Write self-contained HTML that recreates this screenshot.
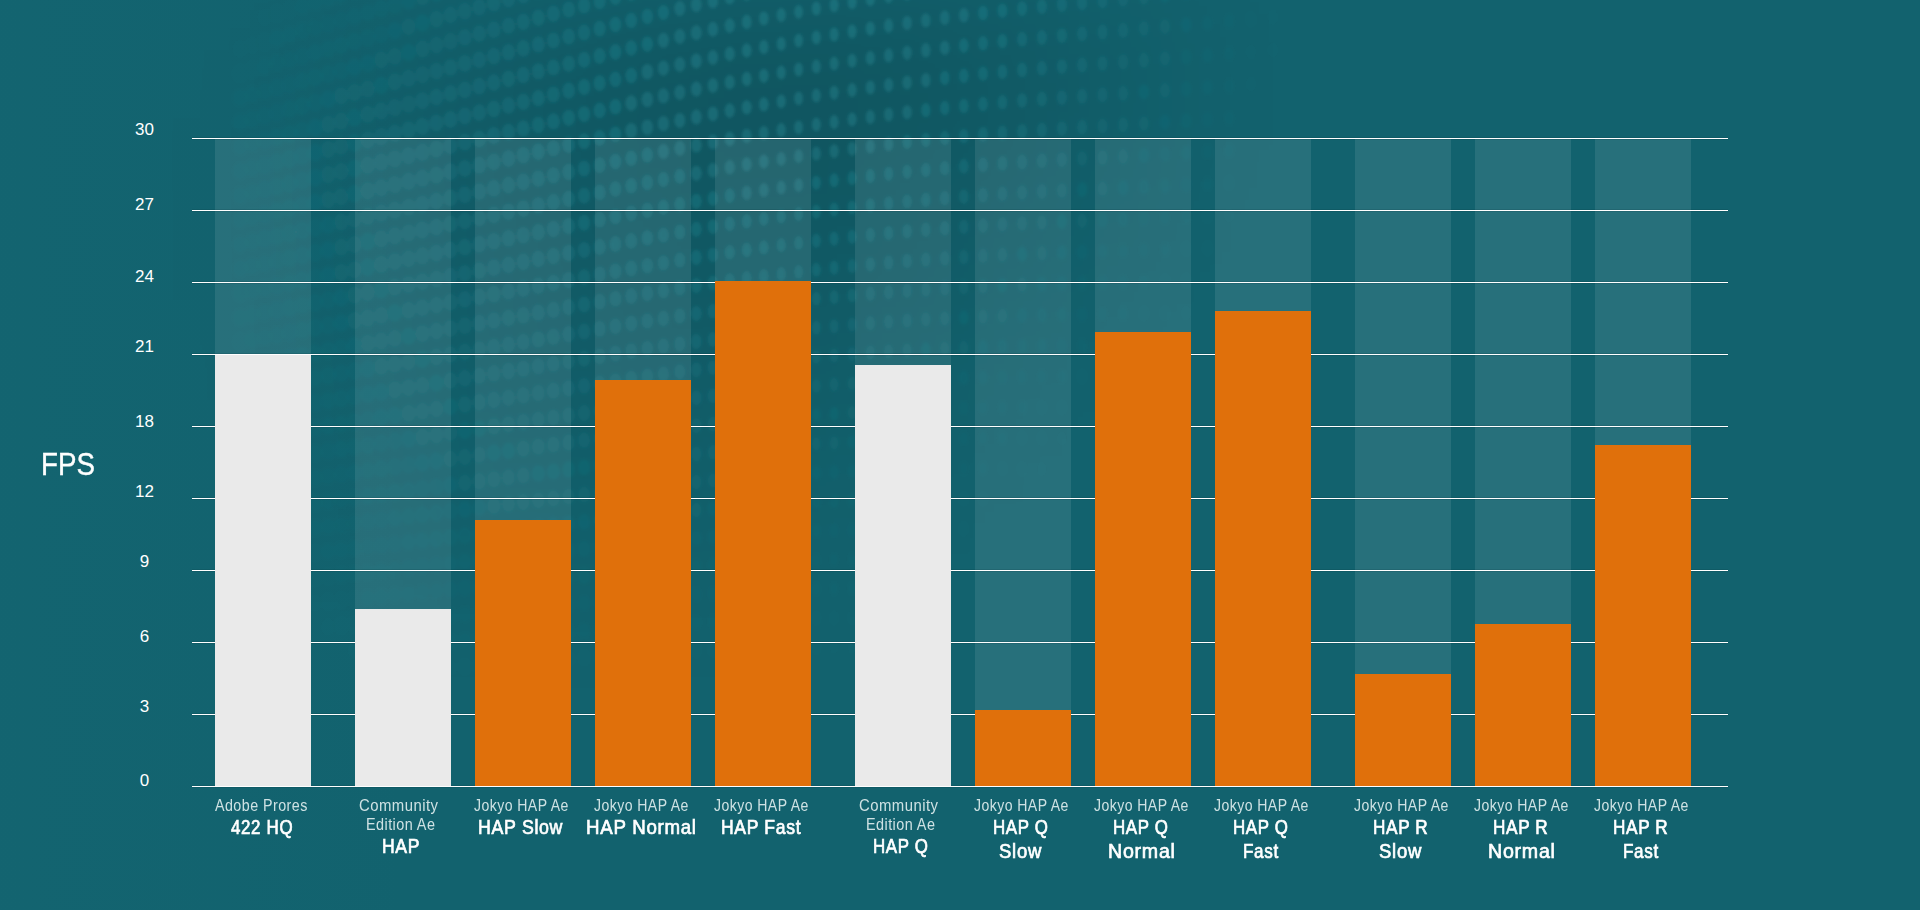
<!DOCTYPE html>
<html><head><meta charset="utf-8"><style>
html,body{margin:0;padding:0;}
body{width:1920px;height:910px;overflow:hidden;position:relative;background:#12626e;font-family:"Liberation Sans",sans-serif;}
.a{position:absolute;}
.col{position:absolute;top:139px;width:96px;height:647px;background:rgba(255,255,255,0.09);}
.grid{position:absolute;left:192px;width:1536px;height:1px;background:#fff;box-shadow:0 -1px 0 rgba(0,35,45,0.12),0 1px 0 rgba(0,35,45,0.12);}
.bar{position:absolute;width:96px;}
.w{background:#eaeaea;}
.o{background:#e0700b;}
.yl{position:absolute;width:40px;left:124.4px;text-align:center;font-size:17px;line-height:18px;color:#fff;white-space:nowrap;}
.lt{position:absolute;transform-origin:0 0;font-size:16px;line-height:18px;color:rgba(240,248,248,0.85);letter-spacing:0.5px;white-space:nowrap;}
.bd{position:absolute;transform-origin:0 0;font-size:20.5px;line-height:24px;font-weight:normal;letter-spacing:0.8px;-webkit-text-stroke:0.7px #fff;color:#fff;white-space:nowrap;}
</style></head><body>
<div class="a" style="left:0;top:0;width:1920px;height:910px;background:linear-gradient(90deg, rgba(40,140,150,0.05) 0px, rgba(40,140,150,0) 420px)"></div>
<svg class="a" style="left:0;top:0" width="1920" height="910">
<defs><filter id="bl" x="-5%" y="-5%" width="110%" height="110%"><feGaussianBlur stdDeviation="1.6"/></filter>
<filter id="bl2" x="-20%" y="-20%" width="140%" height="140%"><feGaussianBlur stdDeviation="60"/></filter></defs>
<g filter="url(#bl2)" fill="#000">
<rect x="250" y="0" width="50" height="50" fill-opacity="0.007"/>
<rect x="300" y="0" width="50" height="50" fill-opacity="0.017"/>
<rect x="350" y="0" width="50" height="50" fill-opacity="0.026"/>
<rect x="400" y="0" width="50" height="50" fill-opacity="0.043"/>
<rect x="450" y="0" width="50" height="50" fill-opacity="0.060"/>
<rect x="500" y="0" width="50" height="50" fill-opacity="0.076"/>
<rect x="550" y="0" width="50" height="50" fill-opacity="0.092"/>
<rect x="600" y="0" width="50" height="50" fill-opacity="0.107"/>
<rect x="650" y="0" width="50" height="50" fill-opacity="0.116"/>
<rect x="700" y="0" width="50" height="50" fill-opacity="0.125"/>
<rect x="750" y="0" width="50" height="50" fill-opacity="0.130"/>
<rect x="800" y="0" width="50" height="50" fill-opacity="0.129"/>
<rect x="850" y="0" width="50" height="50" fill-opacity="0.129"/>
<rect x="900" y="0" width="50" height="50" fill-opacity="0.120"/>
<rect x="950" y="0" width="50" height="50" fill-opacity="0.111"/>
<rect x="1000" y="0" width="50" height="50" fill-opacity="0.096"/>
<rect x="1050" y="0" width="50" height="50" fill-opacity="0.076"/>
<rect x="1100" y="0" width="50" height="50" fill-opacity="0.056"/>
<rect x="1150" y="0" width="50" height="50" fill-opacity="0.036"/>
<rect x="1200" y="0" width="50" height="50" fill-opacity="0.016"/>
<rect x="1250" y="0" width="50" height="50" fill-opacity="0.005"/>
<rect x="200" y="50" width="50" height="50" fill-opacity="0.006"/>
<rect x="250" y="50" width="50" height="50" fill-opacity="0.014"/>
<rect x="300" y="50" width="50" height="50" fill-opacity="0.027"/>
<rect x="350" y="50" width="50" height="50" fill-opacity="0.039"/>
<rect x="400" y="50" width="50" height="50" fill-opacity="0.054"/>
<rect x="450" y="50" width="50" height="50" fill-opacity="0.069"/>
<rect x="500" y="50" width="50" height="50" fill-opacity="0.084"/>
<rect x="550" y="50" width="50" height="50" fill-opacity="0.098"/>
<rect x="600" y="50" width="50" height="50" fill-opacity="0.112"/>
<rect x="650" y="50" width="50" height="50" fill-opacity="0.119"/>
<rect x="700" y="50" width="50" height="50" fill-opacity="0.126"/>
<rect x="750" y="50" width="50" height="50" fill-opacity="0.129"/>
<rect x="800" y="50" width="50" height="50" fill-opacity="0.128"/>
<rect x="850" y="50" width="50" height="50" fill-opacity="0.126"/>
<rect x="900" y="50" width="50" height="50" fill-opacity="0.115"/>
<rect x="950" y="50" width="50" height="50" fill-opacity="0.104"/>
<rect x="1000" y="50" width="50" height="50" fill-opacity="0.089"/>
<rect x="1050" y="50" width="50" height="50" fill-opacity="0.070"/>
<rect x="1100" y="50" width="50" height="50" fill-opacity="0.051"/>
<rect x="1150" y="50" width="50" height="50" fill-opacity="0.032"/>
<rect x="1200" y="50" width="50" height="50" fill-opacity="0.014"/>
<rect x="150" y="100" width="50" height="50" fill-opacity="0.005"/>
<rect x="200" y="100" width="50" height="50" fill-opacity="0.010"/>
<rect x="250" y="100" width="50" height="50" fill-opacity="0.021"/>
<rect x="300" y="100" width="50" height="50" fill-opacity="0.036"/>
<rect x="350" y="100" width="50" height="50" fill-opacity="0.052"/>
<rect x="400" y="100" width="50" height="50" fill-opacity="0.065"/>
<rect x="450" y="100" width="50" height="50" fill-opacity="0.078"/>
<rect x="500" y="100" width="50" height="50" fill-opacity="0.091"/>
<rect x="550" y="100" width="50" height="50" fill-opacity="0.104"/>
<rect x="600" y="100" width="50" height="50" fill-opacity="0.117"/>
<rect x="650" y="100" width="50" height="50" fill-opacity="0.122"/>
<rect x="700" y="100" width="50" height="50" fill-opacity="0.127"/>
<rect x="750" y="100" width="50" height="50" fill-opacity="0.129"/>
<rect x="800" y="100" width="50" height="50" fill-opacity="0.126"/>
<rect x="850" y="100" width="50" height="50" fill-opacity="0.123"/>
<rect x="900" y="100" width="50" height="50" fill-opacity="0.110"/>
<rect x="950" y="100" width="50" height="50" fill-opacity="0.097"/>
<rect x="1000" y="100" width="50" height="50" fill-opacity="0.082"/>
<rect x="1050" y="100" width="50" height="50" fill-opacity="0.064"/>
<rect x="1100" y="100" width="50" height="50" fill-opacity="0.045"/>
<rect x="1150" y="100" width="50" height="50" fill-opacity="0.029"/>
<rect x="1200" y="100" width="50" height="50" fill-opacity="0.012"/>
<rect x="150" y="150" width="50" height="50" fill-opacity="0.005"/>
<rect x="200" y="150" width="50" height="50" fill-opacity="0.010"/>
<rect x="250" y="150" width="50" height="50" fill-opacity="0.020"/>
<rect x="300" y="150" width="50" height="50" fill-opacity="0.035"/>
<rect x="350" y="150" width="50" height="50" fill-opacity="0.049"/>
<rect x="400" y="150" width="50" height="50" fill-opacity="0.061"/>
<rect x="450" y="150" width="50" height="50" fill-opacity="0.073"/>
<rect x="500" y="150" width="50" height="50" fill-opacity="0.085"/>
<rect x="550" y="150" width="50" height="50" fill-opacity="0.096"/>
<rect x="600" y="150" width="50" height="50" fill-opacity="0.107"/>
<rect x="650" y="150" width="50" height="50" fill-opacity="0.112"/>
<rect x="700" y="150" width="50" height="50" fill-opacity="0.117"/>
<rect x="750" y="150" width="50" height="50" fill-opacity="0.118"/>
<rect x="800" y="150" width="50" height="50" fill-opacity="0.114"/>
<rect x="850" y="150" width="50" height="50" fill-opacity="0.110"/>
<rect x="900" y="150" width="50" height="50" fill-opacity="0.096"/>
<rect x="950" y="150" width="50" height="50" fill-opacity="0.082"/>
<rect x="1000" y="150" width="50" height="50" fill-opacity="0.067"/>
<rect x="1050" y="150" width="50" height="50" fill-opacity="0.050"/>
<rect x="1100" y="150" width="50" height="50" fill-opacity="0.034"/>
<rect x="1150" y="150" width="50" height="50" fill-opacity="0.021"/>
<rect x="1200" y="150" width="50" height="50" fill-opacity="0.009"/>
<rect x="150" y="200" width="50" height="50" fill-opacity="0.005"/>
<rect x="200" y="200" width="50" height="50" fill-opacity="0.010"/>
<rect x="250" y="200" width="50" height="50" fill-opacity="0.020"/>
<rect x="300" y="200" width="50" height="50" fill-opacity="0.033"/>
<rect x="350" y="200" width="50" height="50" fill-opacity="0.047"/>
<rect x="400" y="200" width="50" height="50" fill-opacity="0.058"/>
<rect x="450" y="200" width="50" height="50" fill-opacity="0.069"/>
<rect x="500" y="200" width="50" height="50" fill-opacity="0.079"/>
<rect x="550" y="200" width="50" height="50" fill-opacity="0.087"/>
<rect x="600" y="200" width="50" height="50" fill-opacity="0.096"/>
<rect x="650" y="200" width="50" height="50" fill-opacity="0.101"/>
<rect x="700" y="200" width="50" height="50" fill-opacity="0.107"/>
<rect x="750" y="200" width="50" height="50" fill-opacity="0.107"/>
<rect x="800" y="200" width="50" height="50" fill-opacity="0.102"/>
<rect x="850" y="200" width="50" height="50" fill-opacity="0.097"/>
<rect x="900" y="200" width="50" height="50" fill-opacity="0.082"/>
<rect x="950" y="200" width="50" height="50" fill-opacity="0.067"/>
<rect x="1000" y="200" width="50" height="50" fill-opacity="0.052"/>
<rect x="1050" y="200" width="50" height="50" fill-opacity="0.037"/>
<rect x="1100" y="200" width="50" height="50" fill-opacity="0.022"/>
<rect x="1150" y="200" width="50" height="50" fill-opacity="0.013"/>
<rect x="1200" y="200" width="50" height="50" fill-opacity="0.005"/>
<rect x="150" y="250" width="50" height="50" fill-opacity="0.005"/>
<rect x="200" y="250" width="50" height="50" fill-opacity="0.010"/>
<rect x="250" y="250" width="50" height="50" fill-opacity="0.018"/>
<rect x="300" y="250" width="50" height="50" fill-opacity="0.031"/>
<rect x="350" y="250" width="50" height="50" fill-opacity="0.043"/>
<rect x="400" y="250" width="50" height="50" fill-opacity="0.053"/>
<rect x="450" y="250" width="50" height="50" fill-opacity="0.063"/>
<rect x="500" y="250" width="50" height="50" fill-opacity="0.072"/>
<rect x="550" y="250" width="50" height="50" fill-opacity="0.079"/>
<rect x="600" y="250" width="50" height="50" fill-opacity="0.086"/>
<rect x="650" y="250" width="50" height="50" fill-opacity="0.090"/>
<rect x="700" y="250" width="50" height="50" fill-opacity="0.094"/>
<rect x="750" y="250" width="50" height="50" fill-opacity="0.094"/>
<rect x="800" y="250" width="50" height="50" fill-opacity="0.088"/>
<rect x="850" y="250" width="50" height="50" fill-opacity="0.082"/>
<rect x="900" y="250" width="50" height="50" fill-opacity="0.068"/>
<rect x="950" y="250" width="50" height="50" fill-opacity="0.053"/>
<rect x="1000" y="250" width="50" height="50" fill-opacity="0.039"/>
<rect x="1050" y="250" width="50" height="50" fill-opacity="0.026"/>
<rect x="1100" y="250" width="50" height="50" fill-opacity="0.013"/>
<rect x="1150" y="250" width="50" height="50" fill-opacity="0.008"/>
<rect x="200" y="300" width="50" height="50" fill-opacity="0.008"/>
<rect x="250" y="300" width="50" height="50" fill-opacity="0.016"/>
<rect x="300" y="300" width="50" height="50" fill-opacity="0.027"/>
<rect x="350" y="300" width="50" height="50" fill-opacity="0.039"/>
<rect x="400" y="300" width="50" height="50" fill-opacity="0.048"/>
<rect x="450" y="300" width="50" height="50" fill-opacity="0.057"/>
<rect x="500" y="300" width="50" height="50" fill-opacity="0.064"/>
<rect x="550" y="300" width="50" height="50" fill-opacity="0.070"/>
<rect x="600" y="300" width="50" height="50" fill-opacity="0.075"/>
<rect x="650" y="300" width="50" height="50" fill-opacity="0.077"/>
<rect x="700" y="300" width="50" height="50" fill-opacity="0.080"/>
<rect x="750" y="300" width="50" height="50" fill-opacity="0.078"/>
<rect x="800" y="300" width="50" height="50" fill-opacity="0.072"/>
<rect x="850" y="300" width="50" height="50" fill-opacity="0.065"/>
<rect x="900" y="300" width="50" height="50" fill-opacity="0.052"/>
<rect x="950" y="300" width="50" height="50" fill-opacity="0.039"/>
<rect x="1000" y="300" width="50" height="50" fill-opacity="0.028"/>
<rect x="1050" y="300" width="50" height="50" fill-opacity="0.018"/>
<rect x="1100" y="300" width="50" height="50" fill-opacity="0.008"/>
<rect x="1150" y="300" width="50" height="50" fill-opacity="0.005"/>
<rect x="200" y="350" width="50" height="50" fill-opacity="0.006"/>
<rect x="250" y="350" width="50" height="50" fill-opacity="0.013"/>
<rect x="300" y="350" width="50" height="50" fill-opacity="0.024"/>
<rect x="350" y="350" width="50" height="50" fill-opacity="0.035"/>
<rect x="400" y="350" width="50" height="50" fill-opacity="0.043"/>
<rect x="450" y="350" width="50" height="50" fill-opacity="0.051"/>
<rect x="500" y="350" width="50" height="50" fill-opacity="0.057"/>
<rect x="550" y="350" width="50" height="50" fill-opacity="0.060"/>
<rect x="600" y="350" width="50" height="50" fill-opacity="0.064"/>
<rect x="650" y="350" width="50" height="50" fill-opacity="0.065"/>
<rect x="700" y="350" width="50" height="50" fill-opacity="0.066"/>
<rect x="750" y="350" width="50" height="50" fill-opacity="0.062"/>
<rect x="800" y="350" width="50" height="50" fill-opacity="0.055"/>
<rect x="850" y="350" width="50" height="50" fill-opacity="0.048"/>
<rect x="900" y="350" width="50" height="50" fill-opacity="0.036"/>
<rect x="950" y="350" width="50" height="50" fill-opacity="0.025"/>
<rect x="1000" y="350" width="50" height="50" fill-opacity="0.016"/>
<rect x="1050" y="350" width="50" height="50" fill-opacity="0.009"/>
<rect x="200" y="400" width="50" height="50" fill-opacity="0.004"/>
<rect x="250" y="400" width="50" height="50" fill-opacity="0.010"/>
<rect x="300" y="400" width="50" height="50" fill-opacity="0.020"/>
<rect x="350" y="400" width="50" height="50" fill-opacity="0.030"/>
<rect x="400" y="400" width="50" height="50" fill-opacity="0.037"/>
<rect x="450" y="400" width="50" height="50" fill-opacity="0.044"/>
<rect x="500" y="400" width="50" height="50" fill-opacity="0.049"/>
<rect x="550" y="400" width="50" height="50" fill-opacity="0.051"/>
<rect x="600" y="400" width="50" height="50" fill-opacity="0.054"/>
<rect x="650" y="400" width="50" height="50" fill-opacity="0.053"/>
<rect x="700" y="400" width="50" height="50" fill-opacity="0.053"/>
<rect x="750" y="400" width="50" height="50" fill-opacity="0.049"/>
<rect x="800" y="400" width="50" height="50" fill-opacity="0.042"/>
<rect x="850" y="400" width="50" height="50" fill-opacity="0.034"/>
<rect x="900" y="400" width="50" height="50" fill-opacity="0.025"/>
<rect x="950" y="400" width="50" height="50" fill-opacity="0.016"/>
<rect x="1000" y="400" width="50" height="50" fill-opacity="0.009"/>
<rect x="1050" y="400" width="50" height="50" fill-opacity="0.004"/>
<rect x="250" y="450" width="50" height="50" fill-opacity="0.007"/>
<rect x="300" y="450" width="50" height="50" fill-opacity="0.016"/>
<rect x="350" y="450" width="50" height="50" fill-opacity="0.024"/>
<rect x="400" y="450" width="50" height="50" fill-opacity="0.031"/>
<rect x="450" y="450" width="50" height="50" fill-opacity="0.037"/>
<rect x="500" y="450" width="50" height="50" fill-opacity="0.041"/>
<rect x="550" y="450" width="50" height="50" fill-opacity="0.042"/>
<rect x="600" y="450" width="50" height="50" fill-opacity="0.044"/>
<rect x="650" y="450" width="50" height="50" fill-opacity="0.043"/>
<rect x="700" y="450" width="50" height="50" fill-opacity="0.041"/>
<rect x="750" y="450" width="50" height="50" fill-opacity="0.038"/>
<rect x="800" y="450" width="50" height="50" fill-opacity="0.031"/>
<rect x="850" y="450" width="50" height="50" fill-opacity="0.025"/>
<rect x="900" y="450" width="50" height="50" fill-opacity="0.017"/>
<rect x="950" y="450" width="50" height="50" fill-opacity="0.010"/>
<rect x="1000" y="450" width="50" height="50" fill-opacity="0.005"/>
<rect x="250" y="500" width="50" height="50" fill-opacity="0.005"/>
<rect x="300" y="500" width="50" height="50" fill-opacity="0.011"/>
<rect x="350" y="500" width="50" height="50" fill-opacity="0.018"/>
<rect x="400" y="500" width="50" height="50" fill-opacity="0.024"/>
<rect x="450" y="500" width="50" height="50" fill-opacity="0.030"/>
<rect x="500" y="500" width="50" height="50" fill-opacity="0.033"/>
<rect x="550" y="500" width="50" height="50" fill-opacity="0.033"/>
<rect x="600" y="500" width="50" height="50" fill-opacity="0.034"/>
<rect x="650" y="500" width="50" height="50" fill-opacity="0.032"/>
<rect x="700" y="500" width="50" height="50" fill-opacity="0.030"/>
<rect x="750" y="500" width="50" height="50" fill-opacity="0.026"/>
<rect x="800" y="500" width="50" height="50" fill-opacity="0.021"/>
<rect x="850" y="500" width="50" height="50" fill-opacity="0.015"/>
<rect x="900" y="500" width="50" height="50" fill-opacity="0.010"/>
<rect x="950" y="500" width="50" height="50" fill-opacity="0.005"/>
<rect x="300" y="550" width="50" height="50" fill-opacity="0.008"/>
<rect x="350" y="550" width="50" height="50" fill-opacity="0.013"/>
<rect x="400" y="550" width="50" height="50" fill-opacity="0.017"/>
<rect x="450" y="550" width="50" height="50" fill-opacity="0.022"/>
<rect x="500" y="550" width="50" height="50" fill-opacity="0.024"/>
<rect x="550" y="550" width="50" height="50" fill-opacity="0.024"/>
<rect x="600" y="550" width="50" height="50" fill-opacity="0.024"/>
<rect x="650" y="550" width="50" height="50" fill-opacity="0.022"/>
<rect x="700" y="550" width="50" height="50" fill-opacity="0.020"/>
<rect x="750" y="550" width="50" height="50" fill-opacity="0.017"/>
<rect x="800" y="550" width="50" height="50" fill-opacity="0.013"/>
<rect x="850" y="550" width="50" height="50" fill-opacity="0.009"/>
<rect x="900" y="550" width="50" height="50" fill-opacity="0.005"/>
<rect x="300" y="600" width="50" height="50" fill-opacity="0.005"/>
<rect x="350" y="600" width="50" height="50" fill-opacity="0.008"/>
<rect x="400" y="600" width="50" height="50" fill-opacity="0.010"/>
<rect x="450" y="600" width="50" height="50" fill-opacity="0.013"/>
<rect x="500" y="600" width="50" height="50" fill-opacity="0.014"/>
<rect x="550" y="600" width="50" height="50" fill-opacity="0.014"/>
<rect x="600" y="600" width="50" height="50" fill-opacity="0.014"/>
<rect x="650" y="600" width="50" height="50" fill-opacity="0.013"/>
<rect x="700" y="600" width="50" height="50" fill-opacity="0.012"/>
<rect x="750" y="600" width="50" height="50" fill-opacity="0.010"/>
<rect x="800" y="600" width="50" height="50" fill-opacity="0.008"/>
<rect x="850" y="600" width="50" height="50" fill-opacity="0.005"/>
<rect x="450" y="650" width="50" height="50" fill-opacity="0.004"/>
<rect x="500" y="650" width="50" height="50" fill-opacity="0.005"/>
<rect x="550" y="650" width="50" height="50" fill-opacity="0.005"/>
<rect x="600" y="650" width="50" height="50" fill-opacity="0.005"/>
<rect x="650" y="650" width="50" height="50" fill-opacity="0.004"/>
<rect x="700" y="650" width="50" height="50" fill-opacity="0.004"/>
</g>
<g filter="url(#bl)" fill="#25909c">
<ellipse cx="240.0" cy="48.8" rx="7.9" ry="9.3" fill-opacity="0.01"/>
<ellipse cx="240.0" cy="73.3" rx="7.9" ry="9.3" fill-opacity="0.02"/>
<ellipse cx="240.0" cy="97.7" rx="7.9" ry="9.3" fill-opacity="0.03"/>
<ellipse cx="240.0" cy="122.1" rx="7.9" ry="9.3" fill-opacity="0.03"/>
<ellipse cx="240.0" cy="146.5" rx="7.9" ry="9.3" fill-opacity="0.03"/>
<ellipse cx="240.0" cy="170.9" rx="7.9" ry="9.3" fill-opacity="0.03"/>
<ellipse cx="240.0" cy="195.4" rx="7.9" ry="9.3" fill-opacity="0.03"/>
<ellipse cx="240.0" cy="219.8" rx="7.9" ry="9.3" fill-opacity="0.03"/>
<ellipse cx="240.0" cy="244.2" rx="7.9" ry="9.3" fill-opacity="0.03"/>
<ellipse cx="240.0" cy="268.6" rx="7.9" ry="9.3" fill-opacity="0.03"/>
<ellipse cx="240.0" cy="293.0" rx="7.9" ry="9.3" fill-opacity="0.03"/>
<ellipse cx="240.0" cy="317.5" rx="7.9" ry="9.3" fill-opacity="0.03"/>
<ellipse cx="240.0" cy="341.9" rx="7.9" ry="9.3" fill-opacity="0.02"/>
<ellipse cx="240.0" cy="366.3" rx="7.9" ry="9.3" fill-opacity="0.02"/>
<ellipse cx="240.0" cy="390.7" rx="7.9" ry="9.3" fill-opacity="0.02"/>
<ellipse cx="240.0" cy="415.1" rx="7.9" ry="9.3" fill-opacity="0.01"/>
<ellipse cx="240.0" cy="439.6" rx="7.9" ry="9.3" fill-opacity="0.01"/>
<ellipse cx="252.2" cy="45.4" rx="7.8" ry="9.2" fill-opacity="0.01"/>
<ellipse cx="252.2" cy="69.9" rx="7.8" ry="9.2" fill-opacity="0.02"/>
<ellipse cx="252.2" cy="94.4" rx="7.8" ry="9.2" fill-opacity="0.03"/>
<ellipse cx="252.2" cy="118.9" rx="7.8" ry="9.2" fill-opacity="0.04"/>
<ellipse cx="252.2" cy="143.4" rx="7.8" ry="9.2" fill-opacity="0.04"/>
<ellipse cx="252.2" cy="168.0" rx="7.8" ry="9.2" fill-opacity="0.04"/>
<ellipse cx="252.2" cy="192.5" rx="7.8" ry="9.2" fill-opacity="0.04"/>
<ellipse cx="252.2" cy="217.0" rx="7.8" ry="9.2" fill-opacity="0.04"/>
<ellipse cx="252.2" cy="241.5" rx="7.8" ry="9.2" fill-opacity="0.04"/>
<ellipse cx="252.2" cy="266.0" rx="7.8" ry="9.2" fill-opacity="0.04"/>
<ellipse cx="252.2" cy="290.5" rx="7.8" ry="9.2" fill-opacity="0.03"/>
<ellipse cx="252.2" cy="315.1" rx="7.8" ry="9.2" fill-opacity="0.03"/>
<ellipse cx="252.2" cy="339.6" rx="7.8" ry="9.2" fill-opacity="0.03"/>
<ellipse cx="252.2" cy="364.1" rx="7.8" ry="9.2" fill-opacity="0.02"/>
<ellipse cx="252.2" cy="388.6" rx="7.8" ry="9.2" fill-opacity="0.02"/>
<ellipse cx="252.2" cy="413.1" rx="7.8" ry="9.2" fill-opacity="0.02"/>
<ellipse cx="252.2" cy="437.7" rx="7.8" ry="9.2" fill-opacity="0.01"/>
<ellipse cx="264.6" cy="17.2" rx="7.8" ry="9.2" fill-opacity="0.01"/>
<ellipse cx="264.6" cy="41.9" rx="7.8" ry="9.2" fill-opacity="0.02"/>
<ellipse cx="264.6" cy="66.5" rx="7.8" ry="9.2" fill-opacity="0.03"/>
<ellipse cx="264.6" cy="91.1" rx="7.8" ry="9.2" fill-opacity="0.04"/>
<ellipse cx="264.6" cy="115.7" rx="7.8" ry="9.2" fill-opacity="0.05"/>
<ellipse cx="264.6" cy="140.3" rx="7.8" ry="9.2" fill-opacity="0.05"/>
<ellipse cx="264.6" cy="164.9" rx="7.8" ry="9.2" fill-opacity="0.05"/>
<ellipse cx="264.6" cy="189.6" rx="7.8" ry="9.2" fill-opacity="0.05"/>
<ellipse cx="264.6" cy="214.2" rx="7.8" ry="9.2" fill-opacity="0.05"/>
<ellipse cx="264.6" cy="238.8" rx="7.8" ry="9.2" fill-opacity="0.05"/>
<ellipse cx="264.6" cy="263.4" rx="7.8" ry="9.2" fill-opacity="0.04"/>
<ellipse cx="264.6" cy="288.0" rx="7.8" ry="9.2" fill-opacity="0.04"/>
<ellipse cx="264.6" cy="312.6" rx="7.8" ry="9.2" fill-opacity="0.04"/>
<ellipse cx="264.6" cy="337.3" rx="7.8" ry="9.2" fill-opacity="0.03"/>
<ellipse cx="264.6" cy="361.9" rx="7.8" ry="9.2" fill-opacity="0.03"/>
<ellipse cx="264.6" cy="386.5" rx="7.8" ry="9.2" fill-opacity="0.03"/>
<ellipse cx="264.6" cy="411.1" rx="7.8" ry="9.2" fill-opacity="0.02"/>
<ellipse cx="264.6" cy="435.7" rx="7.8" ry="9.2" fill-opacity="0.02"/>
<ellipse cx="264.6" cy="460.3" rx="7.8" ry="9.2" fill-opacity="0.02"/>
<ellipse cx="264.6" cy="485.0" rx="7.8" ry="9.2" fill-opacity="0.01"/>
<ellipse cx="277.0" cy="13.6" rx="7.8" ry="9.2" fill-opacity="0.02"/>
<ellipse cx="277.0" cy="38.3" rx="7.8" ry="9.2" fill-opacity="0.03"/>
<ellipse cx="277.0" cy="63.0" rx="7.8" ry="9.2" fill-opacity="0.04"/>
<ellipse cx="277.0" cy="87.8" rx="7.8" ry="9.2" fill-opacity="0.05"/>
<ellipse cx="277.0" cy="112.5" rx="7.8" ry="9.2" fill-opacity="0.05"/>
<ellipse cx="277.0" cy="137.2" rx="7.8" ry="9.2" fill-opacity="0.06"/>
<ellipse cx="277.0" cy="161.9" rx="7.8" ry="9.2" fill-opacity="0.06"/>
<ellipse cx="277.0" cy="186.6" rx="7.8" ry="9.2" fill-opacity="0.06"/>
<ellipse cx="277.0" cy="211.3" rx="7.8" ry="9.2" fill-opacity="0.06"/>
<ellipse cx="277.0" cy="236.1" rx="7.8" ry="9.2" fill-opacity="0.06"/>
<ellipse cx="277.0" cy="260.8" rx="7.8" ry="9.2" fill-opacity="0.05"/>
<ellipse cx="277.0" cy="285.5" rx="7.8" ry="9.2" fill-opacity="0.05"/>
<ellipse cx="277.0" cy="310.2" rx="7.8" ry="9.2" fill-opacity="0.05"/>
<ellipse cx="277.0" cy="334.9" rx="7.8" ry="9.2" fill-opacity="0.04"/>
<ellipse cx="277.0" cy="359.6" rx="7.8" ry="9.2" fill-opacity="0.04"/>
<ellipse cx="277.0" cy="384.3" rx="7.8" ry="9.2" fill-opacity="0.04"/>
<ellipse cx="277.0" cy="409.1" rx="7.8" ry="9.2" fill-opacity="0.03"/>
<ellipse cx="277.0" cy="433.8" rx="7.8" ry="9.2" fill-opacity="0.03"/>
<ellipse cx="277.0" cy="458.5" rx="7.8" ry="9.2" fill-opacity="0.02"/>
<ellipse cx="277.0" cy="483.2" rx="7.8" ry="9.2" fill-opacity="0.02"/>
<ellipse cx="277.0" cy="507.9" rx="7.8" ry="9.2" fill-opacity="0.02"/>
<ellipse cx="277.0" cy="532.6" rx="7.8" ry="9.2" fill-opacity="0.01"/>
<ellipse cx="289.6" cy="-14.9" rx="7.7" ry="9.1" fill-opacity="0.02"/>
<ellipse cx="289.6" cy="9.9" rx="7.7" ry="9.1" fill-opacity="0.02"/>
<ellipse cx="289.6" cy="34.7" rx="7.7" ry="9.1" fill-opacity="0.03"/>
<ellipse cx="289.6" cy="59.6" rx="7.7" ry="9.1" fill-opacity="0.04"/>
<ellipse cx="289.6" cy="84.4" rx="7.7" ry="9.1" fill-opacity="0.05"/>
<ellipse cx="289.6" cy="109.2" rx="7.7" ry="9.1" fill-opacity="0.06"/>
<ellipse cx="289.6" cy="134.0" rx="7.7" ry="9.1" fill-opacity="0.07"/>
<ellipse cx="289.6" cy="158.8" rx="7.7" ry="9.1" fill-opacity="0.07"/>
<ellipse cx="289.6" cy="183.6" rx="7.7" ry="9.1" fill-opacity="0.07"/>
<ellipse cx="289.6" cy="208.5" rx="7.7" ry="9.1" fill-opacity="0.07"/>
<ellipse cx="289.6" cy="233.3" rx="7.7" ry="9.1" fill-opacity="0.07"/>
<ellipse cx="289.6" cy="258.1" rx="7.7" ry="9.1" fill-opacity="0.06"/>
<ellipse cx="289.6" cy="282.9" rx="7.7" ry="9.1" fill-opacity="0.06"/>
<ellipse cx="289.6" cy="307.7" rx="7.7" ry="9.1" fill-opacity="0.06"/>
<ellipse cx="289.6" cy="332.5" rx="7.7" ry="9.1" fill-opacity="0.05"/>
<ellipse cx="289.6" cy="357.4" rx="7.7" ry="9.1" fill-opacity="0.05"/>
<ellipse cx="289.6" cy="382.2" rx="7.7" ry="9.1" fill-opacity="0.04"/>
<ellipse cx="289.6" cy="407.0" rx="7.7" ry="9.1" fill-opacity="0.04"/>
<ellipse cx="289.6" cy="431.8" rx="7.7" ry="9.1" fill-opacity="0.04"/>
<ellipse cx="289.6" cy="456.6" rx="7.7" ry="9.1" fill-opacity="0.03"/>
<ellipse cx="289.6" cy="481.5" rx="7.7" ry="9.1" fill-opacity="0.03"/>
<ellipse cx="289.6" cy="506.3" rx="7.7" ry="9.1" fill-opacity="0.02"/>
<ellipse cx="289.6" cy="531.1" rx="7.7" ry="9.1" fill-opacity="0.02"/>
<ellipse cx="289.6" cy="555.9" rx="7.7" ry="9.1" fill-opacity="0.01"/>
<ellipse cx="302.3" cy="-18.7" rx="7.7" ry="9.1" fill-opacity="0.02"/>
<ellipse cx="302.3" cy="6.2" rx="7.7" ry="9.1" fill-opacity="0.03"/>
<ellipse cx="302.3" cy="31.1" rx="7.7" ry="9.1" fill-opacity="0.04"/>
<ellipse cx="302.3" cy="56.1" rx="7.7" ry="9.1" fill-opacity="0.05"/>
<ellipse cx="302.3" cy="81.0" rx="7.7" ry="9.1" fill-opacity="0.06"/>
<ellipse cx="302.3" cy="105.9" rx="7.7" ry="9.1" fill-opacity="0.07"/>
<ellipse cx="302.3" cy="130.8" rx="7.7" ry="9.1" fill-opacity="0.08"/>
<ellipse cx="302.3" cy="155.7" rx="7.7" ry="9.1" fill-opacity="0.08"/>
<ellipse cx="302.3" cy="180.6" rx="7.7" ry="9.1" fill-opacity="0.08"/>
<ellipse cx="302.3" cy="205.6" rx="7.7" ry="9.1" fill-opacity="0.08"/>
<ellipse cx="302.3" cy="230.5" rx="7.7" ry="9.1" fill-opacity="0.07"/>
<ellipse cx="302.3" cy="255.4" rx="7.7" ry="9.1" fill-opacity="0.07"/>
<ellipse cx="302.3" cy="280.3" rx="7.7" ry="9.1" fill-opacity="0.07"/>
<ellipse cx="302.3" cy="305.2" rx="7.7" ry="9.1" fill-opacity="0.06"/>
<ellipse cx="302.3" cy="330.2" rx="7.7" ry="9.1" fill-opacity="0.06"/>
<ellipse cx="302.3" cy="355.1" rx="7.7" ry="9.1" fill-opacity="0.06"/>
<ellipse cx="302.3" cy="380.0" rx="7.7" ry="9.1" fill-opacity="0.05"/>
<ellipse cx="302.3" cy="404.9" rx="7.7" ry="9.1" fill-opacity="0.05"/>
<ellipse cx="302.3" cy="429.8" rx="7.7" ry="9.1" fill-opacity="0.04"/>
<ellipse cx="302.3" cy="454.8" rx="7.7" ry="9.1" fill-opacity="0.04"/>
<ellipse cx="302.3" cy="479.7" rx="7.7" ry="9.1" fill-opacity="0.03"/>
<ellipse cx="302.3" cy="504.6" rx="7.7" ry="9.1" fill-opacity="0.03"/>
<ellipse cx="302.3" cy="529.5" rx="7.7" ry="9.1" fill-opacity="0.02"/>
<ellipse cx="302.3" cy="554.4" rx="7.7" ry="9.1" fill-opacity="0.02"/>
<ellipse cx="302.3" cy="579.3" rx="7.7" ry="9.1" fill-opacity="0.01"/>
<ellipse cx="315.2" cy="-22.6" rx="7.6" ry="9.0" fill-opacity="0.03"/>
<ellipse cx="315.2" cy="2.5" rx="7.6" ry="9.0" fill-opacity="0.03"/>
<ellipse cx="315.2" cy="27.5" rx="7.6" ry="9.0" fill-opacity="0.04"/>
<ellipse cx="315.2" cy="52.5" rx="7.6" ry="9.0" fill-opacity="0.06"/>
<ellipse cx="315.2" cy="77.5" rx="7.6" ry="9.0" fill-opacity="0.07"/>
<ellipse cx="315.2" cy="102.6" rx="7.6" ry="9.0" fill-opacity="0.08"/>
<ellipse cx="315.2" cy="127.6" rx="7.6" ry="9.0" fill-opacity="0.09"/>
<ellipse cx="315.2" cy="152.6" rx="7.6" ry="9.0" fill-opacity="0.09"/>
<ellipse cx="315.2" cy="177.6" rx="7.6" ry="9.0" fill-opacity="0.09"/>
<ellipse cx="315.2" cy="202.6" rx="7.6" ry="9.0" fill-opacity="0.09"/>
<ellipse cx="315.2" cy="227.7" rx="7.6" ry="9.0" fill-opacity="0.08"/>
<ellipse cx="315.2" cy="252.7" rx="7.6" ry="9.0" fill-opacity="0.08"/>
<ellipse cx="315.2" cy="277.7" rx="7.6" ry="9.0" fill-opacity="0.08"/>
<ellipse cx="315.2" cy="302.7" rx="7.6" ry="9.0" fill-opacity="0.07"/>
<ellipse cx="315.2" cy="327.7" rx="7.6" ry="9.0" fill-opacity="0.07"/>
<ellipse cx="315.2" cy="352.8" rx="7.6" ry="9.0" fill-opacity="0.06"/>
<ellipse cx="315.2" cy="377.8" rx="7.6" ry="9.0" fill-opacity="0.06"/>
<ellipse cx="315.2" cy="402.8" rx="7.6" ry="9.0" fill-opacity="0.05"/>
<ellipse cx="315.2" cy="427.8" rx="7.6" ry="9.0" fill-opacity="0.05"/>
<ellipse cx="315.2" cy="452.9" rx="7.6" ry="9.0" fill-opacity="0.04"/>
<ellipse cx="315.2" cy="477.9" rx="7.6" ry="9.0" fill-opacity="0.04"/>
<ellipse cx="315.2" cy="502.9" rx="7.6" ry="9.0" fill-opacity="0.03"/>
<ellipse cx="315.2" cy="527.9" rx="7.6" ry="9.0" fill-opacity="0.03"/>
<ellipse cx="315.2" cy="552.9" rx="7.6" ry="9.0" fill-opacity="0.02"/>
<ellipse cx="315.2" cy="578.0" rx="7.6" ry="9.0" fill-opacity="0.02"/>
<ellipse cx="315.2" cy="603.0" rx="7.6" ry="9.0" fill-opacity="0.01"/>
<ellipse cx="328.1" cy="-1.3" rx="7.6" ry="9.0" fill-opacity="0.03"/>
<ellipse cx="328.1" cy="23.8" rx="7.6" ry="9.0" fill-opacity="0.05"/>
<ellipse cx="328.1" cy="48.9" rx="7.6" ry="9.0" fill-opacity="0.06"/>
<ellipse cx="328.1" cy="74.1" rx="7.6" ry="9.0" fill-opacity="0.08"/>
<ellipse cx="328.1" cy="99.2" rx="7.6" ry="9.0" fill-opacity="0.09"/>
<ellipse cx="328.1" cy="124.3" rx="7.6" ry="9.0" fill-opacity="0.10"/>
<ellipse cx="328.1" cy="149.4" rx="7.6" ry="9.0" fill-opacity="0.10"/>
<ellipse cx="328.1" cy="174.6" rx="7.6" ry="9.0" fill-opacity="0.10"/>
<ellipse cx="328.1" cy="199.7" rx="7.6" ry="9.0" fill-opacity="0.10"/>
<ellipse cx="328.1" cy="224.8" rx="7.6" ry="9.0" fill-opacity="0.09"/>
<ellipse cx="328.1" cy="249.9" rx="7.6" ry="9.0" fill-opacity="0.09"/>
<ellipse cx="328.1" cy="275.1" rx="7.6" ry="9.0" fill-opacity="0.09"/>
<ellipse cx="328.1" cy="300.2" rx="7.6" ry="9.0" fill-opacity="0.08"/>
<ellipse cx="328.1" cy="325.3" rx="7.6" ry="9.0" fill-opacity="0.08"/>
<ellipse cx="328.1" cy="350.4" rx="7.6" ry="9.0" fill-opacity="0.07"/>
<ellipse cx="328.1" cy="375.6" rx="7.6" ry="9.0" fill-opacity="0.07"/>
<ellipse cx="328.1" cy="400.7" rx="7.6" ry="9.0" fill-opacity="0.06"/>
<ellipse cx="328.1" cy="425.8" rx="7.6" ry="9.0" fill-opacity="0.06"/>
<ellipse cx="328.1" cy="450.9" rx="7.6" ry="9.0" fill-opacity="0.05"/>
<ellipse cx="328.1" cy="476.1" rx="7.6" ry="9.0" fill-opacity="0.04"/>
<ellipse cx="328.1" cy="501.2" rx="7.6" ry="9.0" fill-opacity="0.04"/>
<ellipse cx="328.1" cy="526.3" rx="7.6" ry="9.0" fill-opacity="0.03"/>
<ellipse cx="328.1" cy="551.4" rx="7.6" ry="9.0" fill-opacity="0.03"/>
<ellipse cx="328.1" cy="576.6" rx="7.6" ry="9.0" fill-opacity="0.02"/>
<ellipse cx="328.1" cy="601.7" rx="7.6" ry="9.0" fill-opacity="0.02"/>
<ellipse cx="328.1" cy="626.8" rx="7.6" ry="9.0" fill-opacity="0.01"/>
<ellipse cx="341.2" cy="-5.1" rx="7.5" ry="8.9" fill-opacity="0.04"/>
<ellipse cx="341.2" cy="20.1" rx="7.5" ry="8.9" fill-opacity="0.05"/>
<ellipse cx="341.2" cy="45.3" rx="7.5" ry="8.9" fill-opacity="0.07"/>
<ellipse cx="341.2" cy="70.6" rx="7.5" ry="8.9" fill-opacity="0.08"/>
<ellipse cx="341.2" cy="95.8" rx="7.5" ry="8.9" fill-opacity="0.10"/>
<ellipse cx="341.2" cy="121.0" rx="7.5" ry="8.9" fill-opacity="0.11"/>
<ellipse cx="341.2" cy="146.2" rx="7.5" ry="8.9" fill-opacity="0.11"/>
<ellipse cx="341.2" cy="171.5" rx="7.5" ry="8.9" fill-opacity="0.11"/>
<ellipse cx="341.2" cy="196.7" rx="7.5" ry="8.9" fill-opacity="0.11"/>
<ellipse cx="341.2" cy="221.9" rx="7.5" ry="8.9" fill-opacity="0.10"/>
<ellipse cx="341.2" cy="247.2" rx="7.5" ry="8.9" fill-opacity="0.10"/>
<ellipse cx="341.2" cy="272.4" rx="7.5" ry="8.9" fill-opacity="0.10"/>
<ellipse cx="341.2" cy="297.6" rx="7.5" ry="8.9" fill-opacity="0.09"/>
<ellipse cx="341.2" cy="322.9" rx="7.5" ry="8.9" fill-opacity="0.09"/>
<ellipse cx="341.2" cy="348.1" rx="7.5" ry="8.9" fill-opacity="0.08"/>
<ellipse cx="341.2" cy="373.3" rx="7.5" ry="8.9" fill-opacity="0.08"/>
<ellipse cx="341.2" cy="398.5" rx="7.5" ry="8.9" fill-opacity="0.07"/>
<ellipse cx="341.2" cy="423.8" rx="7.5" ry="8.9" fill-opacity="0.06"/>
<ellipse cx="341.2" cy="449.0" rx="7.5" ry="8.9" fill-opacity="0.06"/>
<ellipse cx="341.2" cy="474.2" rx="7.5" ry="8.9" fill-opacity="0.05"/>
<ellipse cx="341.2" cy="499.5" rx="7.5" ry="8.9" fill-opacity="0.04"/>
<ellipse cx="341.2" cy="524.7" rx="7.5" ry="8.9" fill-opacity="0.04"/>
<ellipse cx="341.2" cy="549.9" rx="7.5" ry="8.9" fill-opacity="0.03"/>
<ellipse cx="341.2" cy="575.1" rx="7.5" ry="8.9" fill-opacity="0.03"/>
<ellipse cx="341.2" cy="600.4" rx="7.5" ry="8.9" fill-opacity="0.02"/>
<ellipse cx="341.2" cy="625.6" rx="7.5" ry="8.9" fill-opacity="0.02"/>
<ellipse cx="354.4" cy="-9.0" rx="7.5" ry="8.9" fill-opacity="0.05"/>
<ellipse cx="354.4" cy="16.3" rx="7.5" ry="8.9" fill-opacity="0.06"/>
<ellipse cx="354.4" cy="41.7" rx="7.5" ry="8.9" fill-opacity="0.07"/>
<ellipse cx="354.4" cy="67.0" rx="7.5" ry="8.9" fill-opacity="0.09"/>
<ellipse cx="354.4" cy="92.4" rx="7.5" ry="8.9" fill-opacity="0.11"/>
<ellipse cx="354.4" cy="117.7" rx="7.5" ry="8.9" fill-opacity="0.12"/>
<ellipse cx="354.4" cy="143.0" rx="7.5" ry="8.9" fill-opacity="0.12"/>
<ellipse cx="354.4" cy="168.4" rx="7.5" ry="8.9" fill-opacity="0.12"/>
<ellipse cx="354.4" cy="193.7" rx="7.5" ry="8.9" fill-opacity="0.12"/>
<ellipse cx="354.4" cy="219.0" rx="7.5" ry="8.9" fill-opacity="0.11"/>
<ellipse cx="354.4" cy="244.4" rx="7.5" ry="8.9" fill-opacity="0.11"/>
<ellipse cx="354.4" cy="269.7" rx="7.5" ry="8.9" fill-opacity="0.11"/>
<ellipse cx="354.4" cy="295.0" rx="7.5" ry="8.9" fill-opacity="0.10"/>
<ellipse cx="354.4" cy="320.4" rx="7.5" ry="8.9" fill-opacity="0.10"/>
<ellipse cx="354.4" cy="345.7" rx="7.5" ry="8.9" fill-opacity="0.09"/>
<ellipse cx="354.4" cy="371.0" rx="7.5" ry="8.9" fill-opacity="0.08"/>
<ellipse cx="354.4" cy="396.4" rx="7.5" ry="8.9" fill-opacity="0.08"/>
<ellipse cx="354.4" cy="421.7" rx="7.5" ry="8.9" fill-opacity="0.07"/>
<ellipse cx="354.4" cy="447.0" rx="7.5" ry="8.9" fill-opacity="0.06"/>
<ellipse cx="354.4" cy="472.4" rx="7.5" ry="8.9" fill-opacity="0.06"/>
<ellipse cx="354.4" cy="497.7" rx="7.5" ry="8.9" fill-opacity="0.05"/>
<ellipse cx="354.4" cy="523.1" rx="7.5" ry="8.9" fill-opacity="0.04"/>
<ellipse cx="354.4" cy="548.4" rx="7.5" ry="8.9" fill-opacity="0.04"/>
<ellipse cx="354.4" cy="573.7" rx="7.5" ry="8.9" fill-opacity="0.03"/>
<ellipse cx="354.4" cy="599.1" rx="7.5" ry="8.9" fill-opacity="0.02"/>
<ellipse cx="354.4" cy="624.4" rx="7.5" ry="8.9" fill-opacity="0.02"/>
<ellipse cx="354.4" cy="649.7" rx="7.5" ry="8.9" fill-opacity="0.01"/>
<ellipse cx="367.8" cy="-12.9" rx="7.4" ry="8.9" fill-opacity="0.05"/>
<ellipse cx="367.8" cy="12.6" rx="7.4" ry="8.9" fill-opacity="0.06"/>
<ellipse cx="367.8" cy="38.0" rx="7.4" ry="8.9" fill-opacity="0.08"/>
<ellipse cx="367.8" cy="63.4" rx="7.4" ry="8.9" fill-opacity="0.09"/>
<ellipse cx="367.8" cy="88.9" rx="7.4" ry="8.9" fill-opacity="0.11"/>
<ellipse cx="367.8" cy="114.3" rx="7.4" ry="8.9" fill-opacity="0.13"/>
<ellipse cx="367.8" cy="139.8" rx="7.4" ry="8.9" fill-opacity="0.14"/>
<ellipse cx="367.8" cy="165.2" rx="7.4" ry="8.9" fill-opacity="0.13"/>
<ellipse cx="367.8" cy="190.7" rx="7.4" ry="8.9" fill-opacity="0.13"/>
<ellipse cx="367.8" cy="216.1" rx="7.4" ry="8.9" fill-opacity="0.13"/>
<ellipse cx="367.8" cy="241.5" rx="7.4" ry="8.9" fill-opacity="0.12"/>
<ellipse cx="367.8" cy="267.0" rx="7.4" ry="8.9" fill-opacity="0.12"/>
<ellipse cx="367.8" cy="292.4" rx="7.4" ry="8.9" fill-opacity="0.11"/>
<ellipse cx="367.8" cy="317.9" rx="7.4" ry="8.9" fill-opacity="0.10"/>
<ellipse cx="367.8" cy="343.3" rx="7.4" ry="8.9" fill-opacity="0.10"/>
<ellipse cx="367.8" cy="368.7" rx="7.4" ry="8.9" fill-opacity="0.09"/>
<ellipse cx="367.8" cy="394.2" rx="7.4" ry="8.9" fill-opacity="0.09"/>
<ellipse cx="367.8" cy="419.6" rx="7.4" ry="8.9" fill-opacity="0.08"/>
<ellipse cx="367.8" cy="445.1" rx="7.4" ry="8.9" fill-opacity="0.07"/>
<ellipse cx="367.8" cy="470.5" rx="7.4" ry="8.9" fill-opacity="0.06"/>
<ellipse cx="367.8" cy="496.0" rx="7.4" ry="8.9" fill-opacity="0.06"/>
<ellipse cx="367.8" cy="521.4" rx="7.4" ry="8.9" fill-opacity="0.05"/>
<ellipse cx="367.8" cy="546.8" rx="7.4" ry="8.9" fill-opacity="0.04"/>
<ellipse cx="367.8" cy="572.3" rx="7.4" ry="8.9" fill-opacity="0.03"/>
<ellipse cx="367.8" cy="597.7" rx="7.4" ry="8.9" fill-opacity="0.03"/>
<ellipse cx="367.8" cy="623.2" rx="7.4" ry="8.9" fill-opacity="0.02"/>
<ellipse cx="367.8" cy="648.6" rx="7.4" ry="8.9" fill-opacity="0.01"/>
<ellipse cx="381.2" cy="-16.8" rx="7.4" ry="8.8" fill-opacity="0.06"/>
<ellipse cx="381.2" cy="8.7" rx="7.4" ry="8.8" fill-opacity="0.07"/>
<ellipse cx="381.2" cy="34.3" rx="7.4" ry="8.8" fill-opacity="0.08"/>
<ellipse cx="381.2" cy="59.8" rx="7.4" ry="8.8" fill-opacity="0.10"/>
<ellipse cx="381.2" cy="85.4" rx="7.4" ry="8.8" fill-opacity="0.12"/>
<ellipse cx="381.2" cy="110.9" rx="7.4" ry="8.8" fill-opacity="0.14"/>
<ellipse cx="381.2" cy="136.5" rx="7.4" ry="8.8" fill-opacity="0.15"/>
<ellipse cx="381.2" cy="162.0" rx="7.4" ry="8.8" fill-opacity="0.14"/>
<ellipse cx="381.2" cy="187.6" rx="7.4" ry="8.8" fill-opacity="0.14"/>
<ellipse cx="381.2" cy="213.1" rx="7.4" ry="8.8" fill-opacity="0.14"/>
<ellipse cx="381.2" cy="238.7" rx="7.4" ry="8.8" fill-opacity="0.13"/>
<ellipse cx="381.2" cy="264.2" rx="7.4" ry="8.8" fill-opacity="0.13"/>
<ellipse cx="381.2" cy="289.8" rx="7.4" ry="8.8" fill-opacity="0.12"/>
<ellipse cx="381.2" cy="315.3" rx="7.4" ry="8.8" fill-opacity="0.11"/>
<ellipse cx="381.2" cy="340.9" rx="7.4" ry="8.8" fill-opacity="0.11"/>
<ellipse cx="381.2" cy="366.4" rx="7.4" ry="8.8" fill-opacity="0.10"/>
<ellipse cx="381.2" cy="392.0" rx="7.4" ry="8.8" fill-opacity="0.09"/>
<ellipse cx="381.2" cy="417.5" rx="7.4" ry="8.8" fill-opacity="0.09"/>
<ellipse cx="381.2" cy="443.1" rx="7.4" ry="8.8" fill-opacity="0.08"/>
<ellipse cx="381.2" cy="468.6" rx="7.4" ry="8.8" fill-opacity="0.07"/>
<ellipse cx="381.2" cy="494.2" rx="7.4" ry="8.8" fill-opacity="0.06"/>
<ellipse cx="381.2" cy="519.7" rx="7.4" ry="8.8" fill-opacity="0.05"/>
<ellipse cx="381.2" cy="545.3" rx="7.4" ry="8.8" fill-opacity="0.05"/>
<ellipse cx="381.2" cy="570.8" rx="7.4" ry="8.8" fill-opacity="0.04"/>
<ellipse cx="381.2" cy="596.4" rx="7.4" ry="8.8" fill-opacity="0.03"/>
<ellipse cx="381.2" cy="621.9" rx="7.4" ry="8.8" fill-opacity="0.02"/>
<ellipse cx="381.2" cy="647.5" rx="7.4" ry="8.8" fill-opacity="0.02"/>
<ellipse cx="394.8" cy="-20.8" rx="7.3" ry="8.8" fill-opacity="0.07"/>
<ellipse cx="394.8" cy="4.9" rx="7.3" ry="8.8" fill-opacity="0.08"/>
<ellipse cx="394.8" cy="30.5" rx="7.3" ry="8.8" fill-opacity="0.09"/>
<ellipse cx="394.8" cy="56.2" rx="7.3" ry="8.8" fill-opacity="0.11"/>
<ellipse cx="394.8" cy="81.8" rx="7.3" ry="8.8" fill-opacity="0.13"/>
<ellipse cx="394.8" cy="107.5" rx="7.3" ry="8.8" fill-opacity="0.15"/>
<ellipse cx="394.8" cy="133.2" rx="7.3" ry="8.8" fill-opacity="0.16"/>
<ellipse cx="394.8" cy="158.8" rx="7.3" ry="8.8" fill-opacity="0.15"/>
<ellipse cx="394.8" cy="184.5" rx="7.3" ry="8.8" fill-opacity="0.15"/>
<ellipse cx="394.8" cy="210.1" rx="7.3" ry="8.8" fill-opacity="0.14"/>
<ellipse cx="394.8" cy="235.8" rx="7.3" ry="8.8" fill-opacity="0.14"/>
<ellipse cx="394.8" cy="261.5" rx="7.3" ry="8.8" fill-opacity="0.13"/>
<ellipse cx="394.8" cy="287.1" rx="7.3" ry="8.8" fill-opacity="0.13"/>
<ellipse cx="394.8" cy="312.8" rx="7.3" ry="8.8" fill-opacity="0.12"/>
<ellipse cx="394.8" cy="338.4" rx="7.3" ry="8.8" fill-opacity="0.11"/>
<ellipse cx="394.8" cy="364.1" rx="7.3" ry="8.8" fill-opacity="0.11"/>
<ellipse cx="394.8" cy="389.7" rx="7.3" ry="8.8" fill-opacity="0.10"/>
<ellipse cx="394.8" cy="415.4" rx="7.3" ry="8.8" fill-opacity="0.09"/>
<ellipse cx="394.8" cy="441.1" rx="7.3" ry="8.8" fill-opacity="0.08"/>
<ellipse cx="394.8" cy="466.7" rx="7.3" ry="8.8" fill-opacity="0.08"/>
<ellipse cx="394.8" cy="492.4" rx="7.3" ry="8.8" fill-opacity="0.07"/>
<ellipse cx="394.8" cy="518.0" rx="7.3" ry="8.8" fill-opacity="0.06"/>
<ellipse cx="394.8" cy="543.7" rx="7.3" ry="8.8" fill-opacity="0.05"/>
<ellipse cx="394.8" cy="569.4" rx="7.3" ry="8.8" fill-opacity="0.04"/>
<ellipse cx="394.8" cy="595.0" rx="7.3" ry="8.8" fill-opacity="0.03"/>
<ellipse cx="394.8" cy="620.7" rx="7.3" ry="8.8" fill-opacity="0.03"/>
<ellipse cx="394.8" cy="646.3" rx="7.3" ry="8.8" fill-opacity="0.02"/>
<ellipse cx="408.6" cy="-24.8" rx="7.3" ry="8.7" fill-opacity="0.09"/>
<ellipse cx="408.6" cy="1.0" rx="7.3" ry="8.7" fill-opacity="0.09"/>
<ellipse cx="408.6" cy="26.7" rx="7.3" ry="8.7" fill-opacity="0.11"/>
<ellipse cx="408.6" cy="52.5" rx="7.3" ry="8.7" fill-opacity="0.12"/>
<ellipse cx="408.6" cy="78.3" rx="7.3" ry="8.7" fill-opacity="0.14"/>
<ellipse cx="408.6" cy="104.0" rx="7.3" ry="8.7" fill-opacity="0.15"/>
<ellipse cx="408.6" cy="129.8" rx="7.3" ry="8.7" fill-opacity="0.17"/>
<ellipse cx="408.6" cy="155.6" rx="7.3" ry="8.7" fill-opacity="0.16"/>
<ellipse cx="408.6" cy="181.3" rx="7.3" ry="8.7" fill-opacity="0.16"/>
<ellipse cx="408.6" cy="207.1" rx="7.3" ry="8.7" fill-opacity="0.15"/>
<ellipse cx="408.6" cy="232.9" rx="7.3" ry="8.7" fill-opacity="0.15"/>
<ellipse cx="408.6" cy="258.7" rx="7.3" ry="8.7" fill-opacity="0.14"/>
<ellipse cx="408.6" cy="284.4" rx="7.3" ry="8.7" fill-opacity="0.14"/>
<ellipse cx="408.6" cy="310.2" rx="7.3" ry="8.7" fill-opacity="0.13"/>
<ellipse cx="408.6" cy="336.0" rx="7.3" ry="8.7" fill-opacity="0.12"/>
<ellipse cx="408.6" cy="361.7" rx="7.3" ry="8.7" fill-opacity="0.11"/>
<ellipse cx="408.6" cy="387.5" rx="7.3" ry="8.7" fill-opacity="0.11"/>
<ellipse cx="408.6" cy="413.3" rx="7.3" ry="8.7" fill-opacity="0.10"/>
<ellipse cx="408.6" cy="439.0" rx="7.3" ry="8.7" fill-opacity="0.09"/>
<ellipse cx="408.6" cy="464.8" rx="7.3" ry="8.7" fill-opacity="0.08"/>
<ellipse cx="408.6" cy="490.6" rx="7.3" ry="8.7" fill-opacity="0.07"/>
<ellipse cx="408.6" cy="516.3" rx="7.3" ry="8.7" fill-opacity="0.06"/>
<ellipse cx="408.6" cy="542.1" rx="7.3" ry="8.7" fill-opacity="0.06"/>
<ellipse cx="408.6" cy="567.9" rx="7.3" ry="8.7" fill-opacity="0.05"/>
<ellipse cx="408.6" cy="593.6" rx="7.3" ry="8.7" fill-opacity="0.04"/>
<ellipse cx="408.6" cy="619.4" rx="7.3" ry="8.7" fill-opacity="0.03"/>
<ellipse cx="408.6" cy="645.2" rx="7.3" ry="8.7" fill-opacity="0.02"/>
<ellipse cx="422.4" cy="-3.0" rx="7.2" ry="8.7" fill-opacity="0.10"/>
<ellipse cx="422.4" cy="22.9" rx="7.2" ry="8.7" fill-opacity="0.12"/>
<ellipse cx="422.4" cy="48.8" rx="7.2" ry="8.7" fill-opacity="0.13"/>
<ellipse cx="422.4" cy="74.7" rx="7.2" ry="8.7" fill-opacity="0.15"/>
<ellipse cx="422.4" cy="100.6" rx="7.2" ry="8.7" fill-opacity="0.16"/>
<ellipse cx="422.4" cy="126.4" rx="7.2" ry="8.7" fill-opacity="0.18"/>
<ellipse cx="422.4" cy="152.3" rx="7.2" ry="8.7" fill-opacity="0.17"/>
<ellipse cx="422.4" cy="178.2" rx="7.2" ry="8.7" fill-opacity="0.17"/>
<ellipse cx="422.4" cy="204.1" rx="7.2" ry="8.7" fill-opacity="0.16"/>
<ellipse cx="422.4" cy="229.9" rx="7.2" ry="8.7" fill-opacity="0.16"/>
<ellipse cx="422.4" cy="255.8" rx="7.2" ry="8.7" fill-opacity="0.15"/>
<ellipse cx="422.4" cy="281.7" rx="7.2" ry="8.7" fill-opacity="0.14"/>
<ellipse cx="422.4" cy="307.6" rx="7.2" ry="8.7" fill-opacity="0.14"/>
<ellipse cx="422.4" cy="333.5" rx="7.2" ry="8.7" fill-opacity="0.13"/>
<ellipse cx="422.4" cy="359.3" rx="7.2" ry="8.7" fill-opacity="0.12"/>
<ellipse cx="422.4" cy="385.2" rx="7.2" ry="8.7" fill-opacity="0.11"/>
<ellipse cx="422.4" cy="411.1" rx="7.2" ry="8.7" fill-opacity="0.11"/>
<ellipse cx="422.4" cy="437.0" rx="7.2" ry="8.7" fill-opacity="0.10"/>
<ellipse cx="422.4" cy="462.9" rx="7.2" ry="8.7" fill-opacity="0.09"/>
<ellipse cx="422.4" cy="488.7" rx="7.2" ry="8.7" fill-opacity="0.08"/>
<ellipse cx="422.4" cy="514.6" rx="7.2" ry="8.7" fill-opacity="0.07"/>
<ellipse cx="422.4" cy="540.5" rx="7.2" ry="8.7" fill-opacity="0.06"/>
<ellipse cx="422.4" cy="566.4" rx="7.2" ry="8.7" fill-opacity="0.05"/>
<ellipse cx="422.4" cy="592.3" rx="7.2" ry="8.7" fill-opacity="0.04"/>
<ellipse cx="422.4" cy="618.1" rx="7.2" ry="8.7" fill-opacity="0.03"/>
<ellipse cx="422.4" cy="644.0" rx="7.2" ry="8.7" fill-opacity="0.02"/>
<ellipse cx="436.4" cy="-6.9" rx="7.1" ry="8.6" fill-opacity="0.12"/>
<ellipse cx="436.4" cy="19.0" rx="7.1" ry="8.6" fill-opacity="0.13"/>
<ellipse cx="436.4" cy="45.0" rx="7.1" ry="8.6" fill-opacity="0.14"/>
<ellipse cx="436.4" cy="71.0" rx="7.1" ry="8.6" fill-opacity="0.16"/>
<ellipse cx="436.4" cy="97.0" rx="7.1" ry="8.6" fill-opacity="0.17"/>
<ellipse cx="436.4" cy="123.0" rx="7.1" ry="8.6" fill-opacity="0.19"/>
<ellipse cx="436.4" cy="149.0" rx="7.1" ry="8.6" fill-opacity="0.18"/>
<ellipse cx="436.4" cy="175.0" rx="7.1" ry="8.6" fill-opacity="0.18"/>
<ellipse cx="436.4" cy="201.0" rx="7.1" ry="8.6" fill-opacity="0.17"/>
<ellipse cx="436.4" cy="227.0" rx="7.1" ry="8.6" fill-opacity="0.17"/>
<ellipse cx="436.4" cy="253.0" rx="7.1" ry="8.6" fill-opacity="0.16"/>
<ellipse cx="436.4" cy="279.0" rx="7.1" ry="8.6" fill-opacity="0.15"/>
<ellipse cx="436.4" cy="305.0" rx="7.1" ry="8.6" fill-opacity="0.14"/>
<ellipse cx="436.4" cy="330.9" rx="7.1" ry="8.6" fill-opacity="0.14"/>
<ellipse cx="436.4" cy="356.9" rx="7.1" ry="8.6" fill-opacity="0.13"/>
<ellipse cx="436.4" cy="382.9" rx="7.1" ry="8.6" fill-opacity="0.12"/>
<ellipse cx="436.4" cy="408.9" rx="7.1" ry="8.6" fill-opacity="0.11"/>
<ellipse cx="436.4" cy="434.9" rx="7.1" ry="8.6" fill-opacity="0.10"/>
<ellipse cx="436.4" cy="460.9" rx="7.1" ry="8.6" fill-opacity="0.09"/>
<ellipse cx="436.4" cy="486.9" rx="7.1" ry="8.6" fill-opacity="0.08"/>
<ellipse cx="436.4" cy="512.9" rx="7.1" ry="8.6" fill-opacity="0.07"/>
<ellipse cx="436.4" cy="538.9" rx="7.1" ry="8.6" fill-opacity="0.07"/>
<ellipse cx="436.4" cy="564.9" rx="7.1" ry="8.6" fill-opacity="0.05"/>
<ellipse cx="436.4" cy="590.9" rx="7.1" ry="8.6" fill-opacity="0.04"/>
<ellipse cx="436.4" cy="616.8" rx="7.1" ry="8.6" fill-opacity="0.03"/>
<ellipse cx="436.4" cy="642.8" rx="7.1" ry="8.6" fill-opacity="0.02"/>
<ellipse cx="436.4" cy="668.8" rx="7.1" ry="8.6" fill-opacity="0.01"/>
<ellipse cx="450.5" cy="-11.0" rx="7.1" ry="8.5" fill-opacity="0.13"/>
<ellipse cx="450.5" cy="15.1" rx="7.1" ry="8.5" fill-opacity="0.14"/>
<ellipse cx="450.5" cy="41.3" rx="7.1" ry="8.5" fill-opacity="0.15"/>
<ellipse cx="450.5" cy="67.4" rx="7.1" ry="8.5" fill-opacity="0.17"/>
<ellipse cx="450.5" cy="93.5" rx="7.1" ry="8.5" fill-opacity="0.18"/>
<ellipse cx="450.5" cy="119.6" rx="7.1" ry="8.5" fill-opacity="0.20"/>
<ellipse cx="450.5" cy="145.7" rx="7.1" ry="8.5" fill-opacity="0.19"/>
<ellipse cx="450.5" cy="171.8" rx="7.1" ry="8.5" fill-opacity="0.19"/>
<ellipse cx="450.5" cy="197.9" rx="7.1" ry="8.5" fill-opacity="0.18"/>
<ellipse cx="450.5" cy="224.0" rx="7.1" ry="8.5" fill-opacity="0.18"/>
<ellipse cx="450.5" cy="250.1" rx="7.1" ry="8.5" fill-opacity="0.17"/>
<ellipse cx="450.5" cy="276.2" rx="7.1" ry="8.5" fill-opacity="0.16"/>
<ellipse cx="450.5" cy="302.3" rx="7.1" ry="8.5" fill-opacity="0.15"/>
<ellipse cx="450.5" cy="328.4" rx="7.1" ry="8.5" fill-opacity="0.15"/>
<ellipse cx="450.5" cy="354.5" rx="7.1" ry="8.5" fill-opacity="0.14"/>
<ellipse cx="450.5" cy="380.6" rx="7.1" ry="8.5" fill-opacity="0.13"/>
<ellipse cx="450.5" cy="406.7" rx="7.1" ry="8.5" fill-opacity="0.12"/>
<ellipse cx="450.5" cy="432.8" rx="7.1" ry="8.5" fill-opacity="0.11"/>
<ellipse cx="450.5" cy="458.9" rx="7.1" ry="8.5" fill-opacity="0.10"/>
<ellipse cx="450.5" cy="485.0" rx="7.1" ry="8.5" fill-opacity="0.09"/>
<ellipse cx="450.5" cy="511.1" rx="7.1" ry="8.5" fill-opacity="0.08"/>
<ellipse cx="450.5" cy="537.2" rx="7.1" ry="8.5" fill-opacity="0.07"/>
<ellipse cx="450.5" cy="563.3" rx="7.1" ry="8.5" fill-opacity="0.06"/>
<ellipse cx="450.5" cy="589.4" rx="7.1" ry="8.5" fill-opacity="0.05"/>
<ellipse cx="450.5" cy="615.5" rx="7.1" ry="8.5" fill-opacity="0.04"/>
<ellipse cx="450.5" cy="641.7" rx="7.1" ry="8.5" fill-opacity="0.03"/>
<ellipse cx="450.5" cy="667.8" rx="7.1" ry="8.5" fill-opacity="0.01"/>
<ellipse cx="464.8" cy="-15.0" rx="7.0" ry="8.5" fill-opacity="0.14"/>
<ellipse cx="464.8" cy="11.2" rx="7.0" ry="8.5" fill-opacity="0.15"/>
<ellipse cx="464.8" cy="37.4" rx="7.0" ry="8.5" fill-opacity="0.16"/>
<ellipse cx="464.8" cy="63.6" rx="7.0" ry="8.5" fill-opacity="0.18"/>
<ellipse cx="464.8" cy="89.9" rx="7.0" ry="8.5" fill-opacity="0.19"/>
<ellipse cx="464.8" cy="116.1" rx="7.0" ry="8.5" fill-opacity="0.20"/>
<ellipse cx="464.8" cy="142.3" rx="7.0" ry="8.5" fill-opacity="0.20"/>
<ellipse cx="464.8" cy="168.5" rx="7.0" ry="8.5" fill-opacity="0.20"/>
<ellipse cx="464.8" cy="194.7" rx="7.0" ry="8.5" fill-opacity="0.19"/>
<ellipse cx="464.8" cy="221.0" rx="7.0" ry="8.5" fill-opacity="0.18"/>
<ellipse cx="464.8" cy="247.2" rx="7.0" ry="8.5" fill-opacity="0.18"/>
<ellipse cx="464.8" cy="273.4" rx="7.0" ry="8.5" fill-opacity="0.17"/>
<ellipse cx="464.8" cy="299.6" rx="7.0" ry="8.5" fill-opacity="0.16"/>
<ellipse cx="464.8" cy="325.8" rx="7.0" ry="8.5" fill-opacity="0.15"/>
<ellipse cx="464.8" cy="352.1" rx="7.0" ry="8.5" fill-opacity="0.14"/>
<ellipse cx="464.8" cy="378.3" rx="7.0" ry="8.5" fill-opacity="0.14"/>
<ellipse cx="464.8" cy="404.5" rx="7.0" ry="8.5" fill-opacity="0.13"/>
<ellipse cx="464.8" cy="430.7" rx="7.0" ry="8.5" fill-opacity="0.12"/>
<ellipse cx="464.8" cy="456.9" rx="7.0" ry="8.5" fill-opacity="0.11"/>
<ellipse cx="464.8" cy="483.1" rx="7.0" ry="8.5" fill-opacity="0.10"/>
<ellipse cx="464.8" cy="509.4" rx="7.0" ry="8.5" fill-opacity="0.09"/>
<ellipse cx="464.8" cy="535.6" rx="7.0" ry="8.5" fill-opacity="0.07"/>
<ellipse cx="464.8" cy="561.8" rx="7.0" ry="8.5" fill-opacity="0.06"/>
<ellipse cx="464.8" cy="588.0" rx="7.0" ry="8.5" fill-opacity="0.05"/>
<ellipse cx="464.8" cy="614.2" rx="7.0" ry="8.5" fill-opacity="0.04"/>
<ellipse cx="464.8" cy="640.5" rx="7.0" ry="8.5" fill-opacity="0.03"/>
<ellipse cx="464.8" cy="666.7" rx="7.0" ry="8.5" fill-opacity="0.02"/>
<ellipse cx="479.2" cy="-19.1" rx="6.9" ry="8.4" fill-opacity="0.16"/>
<ellipse cx="479.2" cy="7.2" rx="6.9" ry="8.4" fill-opacity="0.16"/>
<ellipse cx="479.2" cy="33.6" rx="6.9" ry="8.4" fill-opacity="0.18"/>
<ellipse cx="479.2" cy="59.9" rx="6.9" ry="8.4" fill-opacity="0.19"/>
<ellipse cx="479.2" cy="86.2" rx="6.9" ry="8.4" fill-opacity="0.20"/>
<ellipse cx="479.2" cy="112.6" rx="6.9" ry="8.4" fill-opacity="0.21"/>
<ellipse cx="479.2" cy="138.9" rx="6.9" ry="8.4" fill-opacity="0.22"/>
<ellipse cx="479.2" cy="165.2" rx="6.9" ry="8.4" fill-opacity="0.21"/>
<ellipse cx="479.2" cy="191.6" rx="6.9" ry="8.4" fill-opacity="0.20"/>
<ellipse cx="479.2" cy="217.9" rx="6.9" ry="8.4" fill-opacity="0.19"/>
<ellipse cx="479.2" cy="244.2" rx="6.9" ry="8.4" fill-opacity="0.19"/>
<ellipse cx="479.2" cy="270.6" rx="6.9" ry="8.4" fill-opacity="0.18"/>
<ellipse cx="479.2" cy="296.9" rx="6.9" ry="8.4" fill-opacity="0.17"/>
<ellipse cx="479.2" cy="323.2" rx="6.9" ry="8.4" fill-opacity="0.16"/>
<ellipse cx="479.2" cy="349.6" rx="6.9" ry="8.4" fill-opacity="0.15"/>
<ellipse cx="479.2" cy="375.9" rx="6.9" ry="8.4" fill-opacity="0.14"/>
<ellipse cx="479.2" cy="402.2" rx="6.9" ry="8.4" fill-opacity="0.13"/>
<ellipse cx="479.2" cy="428.6" rx="6.9" ry="8.4" fill-opacity="0.12"/>
<ellipse cx="479.2" cy="454.9" rx="6.9" ry="8.4" fill-opacity="0.11"/>
<ellipse cx="479.2" cy="481.2" rx="6.9" ry="8.4" fill-opacity="0.10"/>
<ellipse cx="479.2" cy="507.6" rx="6.9" ry="8.4" fill-opacity="0.09"/>
<ellipse cx="479.2" cy="533.9" rx="6.9" ry="8.4" fill-opacity="0.08"/>
<ellipse cx="479.2" cy="560.2" rx="6.9" ry="8.4" fill-opacity="0.07"/>
<ellipse cx="479.2" cy="586.6" rx="6.9" ry="8.4" fill-opacity="0.06"/>
<ellipse cx="479.2" cy="612.9" rx="6.9" ry="8.4" fill-opacity="0.04"/>
<ellipse cx="479.2" cy="639.2" rx="6.9" ry="8.4" fill-opacity="0.03"/>
<ellipse cx="479.2" cy="665.6" rx="6.9" ry="8.4" fill-opacity="0.02"/>
<ellipse cx="493.8" cy="-23.2" rx="6.8" ry="8.4" fill-opacity="0.17"/>
<ellipse cx="493.8" cy="3.2" rx="6.8" ry="8.4" fill-opacity="0.18"/>
<ellipse cx="493.8" cy="29.7" rx="6.8" ry="8.4" fill-opacity="0.19"/>
<ellipse cx="493.8" cy="56.1" rx="6.8" ry="8.4" fill-opacity="0.20"/>
<ellipse cx="493.8" cy="82.6" rx="6.8" ry="8.4" fill-opacity="0.21"/>
<ellipse cx="493.8" cy="109.0" rx="6.8" ry="8.4" fill-opacity="0.22"/>
<ellipse cx="493.8" cy="135.5" rx="6.8" ry="8.4" fill-opacity="0.23"/>
<ellipse cx="493.8" cy="161.9" rx="6.8" ry="8.4" fill-opacity="0.22"/>
<ellipse cx="493.8" cy="188.4" rx="6.8" ry="8.4" fill-opacity="0.21"/>
<ellipse cx="493.8" cy="214.8" rx="6.8" ry="8.4" fill-opacity="0.20"/>
<ellipse cx="493.8" cy="241.3" rx="6.8" ry="8.4" fill-opacity="0.20"/>
<ellipse cx="493.8" cy="267.7" rx="6.8" ry="8.4" fill-opacity="0.19"/>
<ellipse cx="493.8" cy="294.2" rx="6.8" ry="8.4" fill-opacity="0.18"/>
<ellipse cx="493.8" cy="320.6" rx="6.8" ry="8.4" fill-opacity="0.17"/>
<ellipse cx="493.8" cy="347.1" rx="6.8" ry="8.4" fill-opacity="0.16"/>
<ellipse cx="493.8" cy="373.5" rx="6.8" ry="8.4" fill-opacity="0.15"/>
<ellipse cx="493.8" cy="400.0" rx="6.8" ry="8.4" fill-opacity="0.14"/>
<ellipse cx="493.8" cy="426.4" rx="6.8" ry="8.4" fill-opacity="0.13"/>
<ellipse cx="493.8" cy="452.9" rx="6.8" ry="8.4" fill-opacity="0.12"/>
<ellipse cx="493.8" cy="479.3" rx="6.8" ry="8.4" fill-opacity="0.11"/>
<ellipse cx="493.8" cy="505.8" rx="6.8" ry="8.4" fill-opacity="0.10"/>
<ellipse cx="493.8" cy="532.2" rx="6.8" ry="8.4" fill-opacity="0.08"/>
<ellipse cx="493.8" cy="558.7" rx="6.8" ry="8.4" fill-opacity="0.07"/>
<ellipse cx="493.8" cy="585.1" rx="6.8" ry="8.4" fill-opacity="0.06"/>
<ellipse cx="493.8" cy="611.6" rx="6.8" ry="8.4" fill-opacity="0.05"/>
<ellipse cx="493.8" cy="638.0" rx="6.8" ry="8.4" fill-opacity="0.03"/>
<ellipse cx="493.8" cy="664.5" rx="6.8" ry="8.4" fill-opacity="0.02"/>
<ellipse cx="508.5" cy="-0.8" rx="6.7" ry="8.3" fill-opacity="0.19"/>
<ellipse cx="508.5" cy="25.7" rx="6.7" ry="8.3" fill-opacity="0.20"/>
<ellipse cx="508.5" cy="52.3" rx="6.7" ry="8.3" fill-opacity="0.21"/>
<ellipse cx="508.5" cy="78.9" rx="6.7" ry="8.3" fill-opacity="0.22"/>
<ellipse cx="508.5" cy="105.4" rx="6.7" ry="8.3" fill-opacity="0.23"/>
<ellipse cx="508.5" cy="132.0" rx="6.7" ry="8.3" fill-opacity="0.24"/>
<ellipse cx="508.5" cy="158.6" rx="6.7" ry="8.3" fill-opacity="0.23"/>
<ellipse cx="508.5" cy="185.1" rx="6.7" ry="8.3" fill-opacity="0.22"/>
<ellipse cx="508.5" cy="211.7" rx="6.7" ry="8.3" fill-opacity="0.21"/>
<ellipse cx="508.5" cy="238.3" rx="6.7" ry="8.3" fill-opacity="0.21"/>
<ellipse cx="508.5" cy="264.8" rx="6.7" ry="8.3" fill-opacity="0.20"/>
<ellipse cx="508.5" cy="291.4" rx="6.7" ry="8.3" fill-opacity="0.19"/>
<ellipse cx="508.5" cy="318.0" rx="6.7" ry="8.3" fill-opacity="0.18"/>
<ellipse cx="508.5" cy="344.5" rx="6.7" ry="8.3" fill-opacity="0.17"/>
<ellipse cx="508.5" cy="371.1" rx="6.7" ry="8.3" fill-opacity="0.16"/>
<ellipse cx="508.5" cy="397.7" rx="6.7" ry="8.3" fill-opacity="0.15"/>
<ellipse cx="508.5" cy="424.2" rx="6.7" ry="8.3" fill-opacity="0.13"/>
<ellipse cx="508.5" cy="450.8" rx="6.7" ry="8.3" fill-opacity="0.12"/>
<ellipse cx="508.5" cy="477.4" rx="6.7" ry="8.3" fill-opacity="0.11"/>
<ellipse cx="508.5" cy="504.0" rx="6.7" ry="8.3" fill-opacity="0.10"/>
<ellipse cx="508.5" cy="530.5" rx="6.7" ry="8.3" fill-opacity="0.09"/>
<ellipse cx="508.5" cy="557.1" rx="6.7" ry="8.3" fill-opacity="0.08"/>
<ellipse cx="508.5" cy="583.7" rx="6.7" ry="8.3" fill-opacity="0.06"/>
<ellipse cx="508.5" cy="610.2" rx="6.7" ry="8.3" fill-opacity="0.05"/>
<ellipse cx="508.5" cy="636.8" rx="6.7" ry="8.3" fill-opacity="0.03"/>
<ellipse cx="508.5" cy="663.4" rx="6.7" ry="8.3" fill-opacity="0.02"/>
<ellipse cx="523.3" cy="-4.9" rx="6.6" ry="8.3" fill-opacity="0.20"/>
<ellipse cx="523.3" cy="21.8" rx="6.6" ry="8.3" fill-opacity="0.21"/>
<ellipse cx="523.3" cy="48.4" rx="6.6" ry="8.3" fill-opacity="0.22"/>
<ellipse cx="523.3" cy="75.1" rx="6.6" ry="8.3" fill-opacity="0.23"/>
<ellipse cx="523.3" cy="101.8" rx="6.6" ry="8.3" fill-opacity="0.24"/>
<ellipse cx="523.3" cy="128.5" rx="6.6" ry="8.3" fill-opacity="0.25"/>
<ellipse cx="523.3" cy="155.2" rx="6.6" ry="8.3" fill-opacity="0.24"/>
<ellipse cx="523.3" cy="181.9" rx="6.6" ry="8.3" fill-opacity="0.23"/>
<ellipse cx="523.3" cy="208.6" rx="6.6" ry="8.3" fill-opacity="0.22"/>
<ellipse cx="523.3" cy="235.2" rx="6.6" ry="8.3" fill-opacity="0.21"/>
<ellipse cx="523.3" cy="261.9" rx="6.6" ry="8.3" fill-opacity="0.20"/>
<ellipse cx="523.3" cy="288.6" rx="6.6" ry="8.3" fill-opacity="0.19"/>
<ellipse cx="523.3" cy="315.3" rx="6.6" ry="8.3" fill-opacity="0.18"/>
<ellipse cx="523.3" cy="342.0" rx="6.6" ry="8.3" fill-opacity="0.17"/>
<ellipse cx="523.3" cy="368.7" rx="6.6" ry="8.3" fill-opacity="0.16"/>
<ellipse cx="523.3" cy="395.4" rx="6.6" ry="8.3" fill-opacity="0.15"/>
<ellipse cx="523.3" cy="422.1" rx="6.6" ry="8.3" fill-opacity="0.14"/>
<ellipse cx="523.3" cy="448.7" rx="6.6" ry="8.3" fill-opacity="0.13"/>
<ellipse cx="523.3" cy="475.4" rx="6.6" ry="8.3" fill-opacity="0.11"/>
<ellipse cx="523.3" cy="502.1" rx="6.6" ry="8.3" fill-opacity="0.10"/>
<ellipse cx="523.3" cy="528.8" rx="6.6" ry="8.3" fill-opacity="0.09"/>
<ellipse cx="523.3" cy="555.5" rx="6.6" ry="8.3" fill-opacity="0.08"/>
<ellipse cx="523.3" cy="582.2" rx="6.6" ry="8.3" fill-opacity="0.06"/>
<ellipse cx="523.3" cy="608.9" rx="6.6" ry="8.3" fill-opacity="0.05"/>
<ellipse cx="523.3" cy="635.5" rx="6.6" ry="8.3" fill-opacity="0.03"/>
<ellipse cx="523.3" cy="662.2" rx="6.6" ry="8.3" fill-opacity="0.02"/>
<ellipse cx="538.3" cy="-9.1" rx="6.6" ry="8.2" fill-opacity="0.21"/>
<ellipse cx="538.3" cy="17.7" rx="6.6" ry="8.2" fill-opacity="0.22"/>
<ellipse cx="538.3" cy="44.5" rx="6.6" ry="8.2" fill-opacity="0.23"/>
<ellipse cx="538.3" cy="71.4" rx="6.6" ry="8.2" fill-opacity="0.24"/>
<ellipse cx="538.3" cy="98.2" rx="6.6" ry="8.2" fill-opacity="0.25"/>
<ellipse cx="538.3" cy="125.0" rx="6.6" ry="8.2" fill-opacity="0.26"/>
<ellipse cx="538.3" cy="151.8" rx="6.6" ry="8.2" fill-opacity="0.25"/>
<ellipse cx="538.3" cy="178.6" rx="6.6" ry="8.2" fill-opacity="0.24"/>
<ellipse cx="538.3" cy="205.4" rx="6.6" ry="8.2" fill-opacity="0.23"/>
<ellipse cx="538.3" cy="232.2" rx="6.6" ry="8.2" fill-opacity="0.22"/>
<ellipse cx="538.3" cy="259.0" rx="6.6" ry="8.2" fill-opacity="0.21"/>
<ellipse cx="538.3" cy="285.8" rx="6.6" ry="8.2" fill-opacity="0.20"/>
<ellipse cx="538.3" cy="312.6" rx="6.6" ry="8.2" fill-opacity="0.19"/>
<ellipse cx="538.3" cy="339.4" rx="6.6" ry="8.2" fill-opacity="0.18"/>
<ellipse cx="538.3" cy="366.2" rx="6.6" ry="8.2" fill-opacity="0.16"/>
<ellipse cx="538.3" cy="393.0" rx="6.6" ry="8.2" fill-opacity="0.15"/>
<ellipse cx="538.3" cy="419.8" rx="6.6" ry="8.2" fill-opacity="0.14"/>
<ellipse cx="538.3" cy="446.6" rx="6.6" ry="8.2" fill-opacity="0.13"/>
<ellipse cx="538.3" cy="473.4" rx="6.6" ry="8.2" fill-opacity="0.12"/>
<ellipse cx="538.3" cy="500.3" rx="6.6" ry="8.2" fill-opacity="0.10"/>
<ellipse cx="538.3" cy="527.1" rx="6.6" ry="8.2" fill-opacity="0.09"/>
<ellipse cx="538.3" cy="553.9" rx="6.6" ry="8.2" fill-opacity="0.08"/>
<ellipse cx="538.3" cy="580.7" rx="6.6" ry="8.2" fill-opacity="0.06"/>
<ellipse cx="538.3" cy="607.5" rx="6.6" ry="8.2" fill-opacity="0.05"/>
<ellipse cx="538.3" cy="634.3" rx="6.6" ry="8.2" fill-opacity="0.03"/>
<ellipse cx="538.3" cy="661.1" rx="6.6" ry="8.2" fill-opacity="0.02"/>
<ellipse cx="553.4" cy="-13.2" rx="6.5" ry="8.1" fill-opacity="0.23"/>
<ellipse cx="553.4" cy="13.7" rx="6.5" ry="8.1" fill-opacity="0.23"/>
<ellipse cx="553.4" cy="40.6" rx="6.5" ry="8.1" fill-opacity="0.24"/>
<ellipse cx="553.4" cy="67.5" rx="6.5" ry="8.1" fill-opacity="0.25"/>
<ellipse cx="553.4" cy="94.5" rx="6.5" ry="8.1" fill-opacity="0.26"/>
<ellipse cx="553.4" cy="121.4" rx="6.5" ry="8.1" fill-opacity="0.27"/>
<ellipse cx="553.4" cy="148.3" rx="6.5" ry="8.1" fill-opacity="0.26"/>
<ellipse cx="553.4" cy="175.3" rx="6.5" ry="8.1" fill-opacity="0.25"/>
<ellipse cx="553.4" cy="202.2" rx="6.5" ry="8.1" fill-opacity="0.24"/>
<ellipse cx="553.4" cy="229.1" rx="6.5" ry="8.1" fill-opacity="0.23"/>
<ellipse cx="553.4" cy="256.0" rx="6.5" ry="8.1" fill-opacity="0.22"/>
<ellipse cx="553.4" cy="283.0" rx="6.5" ry="8.1" fill-opacity="0.21"/>
<ellipse cx="553.4" cy="309.9" rx="6.5" ry="8.1" fill-opacity="0.19"/>
<ellipse cx="553.4" cy="336.8" rx="6.5" ry="8.1" fill-opacity="0.18"/>
<ellipse cx="553.4" cy="363.7" rx="6.5" ry="8.1" fill-opacity="0.17"/>
<ellipse cx="553.4" cy="390.7" rx="6.5" ry="8.1" fill-opacity="0.16"/>
<ellipse cx="553.4" cy="417.6" rx="6.5" ry="8.1" fill-opacity="0.14"/>
<ellipse cx="553.4" cy="444.5" rx="6.5" ry="8.1" fill-opacity="0.13"/>
<ellipse cx="553.4" cy="471.5" rx="6.5" ry="8.1" fill-opacity="0.12"/>
<ellipse cx="553.4" cy="498.4" rx="6.5" ry="8.1" fill-opacity="0.10"/>
<ellipse cx="553.4" cy="525.3" rx="6.5" ry="8.1" fill-opacity="0.09"/>
<ellipse cx="553.4" cy="552.2" rx="6.5" ry="8.1" fill-opacity="0.08"/>
<ellipse cx="553.4" cy="579.2" rx="6.5" ry="8.1" fill-opacity="0.06"/>
<ellipse cx="553.4" cy="606.1" rx="6.5" ry="8.1" fill-opacity="0.05"/>
<ellipse cx="553.4" cy="633.0" rx="6.5" ry="8.1" fill-opacity="0.04"/>
<ellipse cx="553.4" cy="659.9" rx="6.5" ry="8.1" fill-opacity="0.02"/>
<ellipse cx="568.7" cy="-17.5" rx="6.4" ry="8.1" fill-opacity="0.24"/>
<ellipse cx="568.7" cy="9.6" rx="6.4" ry="8.1" fill-opacity="0.24"/>
<ellipse cx="568.7" cy="36.6" rx="6.4" ry="8.1" fill-opacity="0.25"/>
<ellipse cx="568.7" cy="63.7" rx="6.4" ry="8.1" fill-opacity="0.26"/>
<ellipse cx="568.7" cy="90.7" rx="6.4" ry="8.1" fill-opacity="0.27"/>
<ellipse cx="568.7" cy="117.8" rx="6.4" ry="8.1" fill-opacity="0.28"/>
<ellipse cx="568.7" cy="144.8" rx="6.4" ry="8.1" fill-opacity="0.27"/>
<ellipse cx="568.7" cy="171.9" rx="6.4" ry="8.1" fill-opacity="0.26"/>
<ellipse cx="568.7" cy="198.9" rx="6.4" ry="8.1" fill-opacity="0.25"/>
<ellipse cx="568.7" cy="226.0" rx="6.4" ry="8.1" fill-opacity="0.24"/>
<ellipse cx="568.7" cy="253.0" rx="6.4" ry="8.1" fill-opacity="0.23"/>
<ellipse cx="568.7" cy="280.1" rx="6.4" ry="8.1" fill-opacity="0.21"/>
<ellipse cx="568.7" cy="307.1" rx="6.4" ry="8.1" fill-opacity="0.20"/>
<ellipse cx="568.7" cy="334.2" rx="6.4" ry="8.1" fill-opacity="0.19"/>
<ellipse cx="568.7" cy="361.2" rx="6.4" ry="8.1" fill-opacity="0.17"/>
<ellipse cx="568.7" cy="388.3" rx="6.4" ry="8.1" fill-opacity="0.16"/>
<ellipse cx="568.7" cy="415.3" rx="6.4" ry="8.1" fill-opacity="0.15"/>
<ellipse cx="568.7" cy="442.4" rx="6.4" ry="8.1" fill-opacity="0.13"/>
<ellipse cx="568.7" cy="469.4" rx="6.4" ry="8.1" fill-opacity="0.12"/>
<ellipse cx="568.7" cy="496.5" rx="6.4" ry="8.1" fill-opacity="0.11"/>
<ellipse cx="568.7" cy="523.5" rx="6.4" ry="8.1" fill-opacity="0.09"/>
<ellipse cx="568.7" cy="550.6" rx="6.4" ry="8.1" fill-opacity="0.08"/>
<ellipse cx="568.7" cy="577.6" rx="6.4" ry="8.1" fill-opacity="0.06"/>
<ellipse cx="568.7" cy="604.7" rx="6.4" ry="8.1" fill-opacity="0.05"/>
<ellipse cx="568.7" cy="631.7" rx="6.4" ry="8.1" fill-opacity="0.04"/>
<ellipse cx="568.7" cy="658.8" rx="6.4" ry="8.1" fill-opacity="0.02"/>
<ellipse cx="584.1" cy="-21.7" rx="6.2" ry="8.0" fill-opacity="0.25"/>
<ellipse cx="584.1" cy="5.5" rx="6.2" ry="8.0" fill-opacity="0.25"/>
<ellipse cx="584.1" cy="32.6" rx="6.2" ry="8.0" fill-opacity="0.26"/>
<ellipse cx="584.1" cy="59.8" rx="6.2" ry="8.0" fill-opacity="0.27"/>
<ellipse cx="584.1" cy="87.0" rx="6.2" ry="8.0" fill-opacity="0.28"/>
<ellipse cx="584.1" cy="114.2" rx="6.2" ry="8.0" fill-opacity="0.29"/>
<ellipse cx="584.1" cy="141.3" rx="6.2" ry="8.0" fill-opacity="0.29"/>
<ellipse cx="584.1" cy="168.5" rx="6.2" ry="8.0" fill-opacity="0.27"/>
<ellipse cx="584.1" cy="195.7" rx="6.2" ry="8.0" fill-opacity="0.26"/>
<ellipse cx="584.1" cy="222.8" rx="6.2" ry="8.0" fill-opacity="0.25"/>
<ellipse cx="584.1" cy="250.0" rx="6.2" ry="8.0" fill-opacity="0.23"/>
<ellipse cx="584.1" cy="277.2" rx="6.2" ry="8.0" fill-opacity="0.22"/>
<ellipse cx="584.1" cy="304.4" rx="6.2" ry="8.0" fill-opacity="0.21"/>
<ellipse cx="584.1" cy="331.5" rx="6.2" ry="8.0" fill-opacity="0.19"/>
<ellipse cx="584.1" cy="358.7" rx="6.2" ry="8.0" fill-opacity="0.18"/>
<ellipse cx="584.1" cy="385.9" rx="6.2" ry="8.0" fill-opacity="0.16"/>
<ellipse cx="584.1" cy="413.1" rx="6.2" ry="8.0" fill-opacity="0.15"/>
<ellipse cx="584.1" cy="440.2" rx="6.2" ry="8.0" fill-opacity="0.14"/>
<ellipse cx="584.1" cy="467.4" rx="6.2" ry="8.0" fill-opacity="0.12"/>
<ellipse cx="584.1" cy="494.6" rx="6.2" ry="8.0" fill-opacity="0.11"/>
<ellipse cx="584.1" cy="521.7" rx="6.2" ry="8.0" fill-opacity="0.09"/>
<ellipse cx="584.1" cy="548.9" rx="6.2" ry="8.0" fill-opacity="0.08"/>
<ellipse cx="584.1" cy="576.1" rx="6.2" ry="8.0" fill-opacity="0.07"/>
<ellipse cx="584.1" cy="603.3" rx="6.2" ry="8.0" fill-opacity="0.05"/>
<ellipse cx="584.1" cy="630.4" rx="6.2" ry="8.0" fill-opacity="0.04"/>
<ellipse cx="584.1" cy="657.6" rx="6.2" ry="8.0" fill-opacity="0.02"/>
<ellipse cx="599.6" cy="-26.0" rx="6.1" ry="7.9" fill-opacity="0.27"/>
<ellipse cx="599.6" cy="1.3" rx="6.1" ry="7.9" fill-opacity="0.27"/>
<ellipse cx="599.6" cy="28.6" rx="6.1" ry="7.9" fill-opacity="0.28"/>
<ellipse cx="599.6" cy="55.9" rx="6.1" ry="7.9" fill-opacity="0.28"/>
<ellipse cx="599.6" cy="83.2" rx="6.1" ry="7.9" fill-opacity="0.29"/>
<ellipse cx="599.6" cy="110.5" rx="6.1" ry="7.9" fill-opacity="0.30"/>
<ellipse cx="599.6" cy="137.8" rx="6.1" ry="7.9" fill-opacity="0.30"/>
<ellipse cx="599.6" cy="165.1" rx="6.1" ry="7.9" fill-opacity="0.28"/>
<ellipse cx="599.6" cy="192.4" rx="6.1" ry="7.9" fill-opacity="0.27"/>
<ellipse cx="599.6" cy="219.7" rx="6.1" ry="7.9" fill-opacity="0.26"/>
<ellipse cx="599.6" cy="247.0" rx="6.1" ry="7.9" fill-opacity="0.24"/>
<ellipse cx="599.6" cy="274.3" rx="6.1" ry="7.9" fill-opacity="0.23"/>
<ellipse cx="599.6" cy="301.6" rx="6.1" ry="7.9" fill-opacity="0.21"/>
<ellipse cx="599.6" cy="328.9" rx="6.1" ry="7.9" fill-opacity="0.20"/>
<ellipse cx="599.6" cy="356.2" rx="6.1" ry="7.9" fill-opacity="0.18"/>
<ellipse cx="599.6" cy="383.5" rx="6.1" ry="7.9" fill-opacity="0.17"/>
<ellipse cx="599.6" cy="410.8" rx="6.1" ry="7.9" fill-opacity="0.15"/>
<ellipse cx="599.6" cy="438.1" rx="6.1" ry="7.9" fill-opacity="0.14"/>
<ellipse cx="599.6" cy="465.3" rx="6.1" ry="7.9" fill-opacity="0.12"/>
<ellipse cx="599.6" cy="492.6" rx="6.1" ry="7.9" fill-opacity="0.11"/>
<ellipse cx="599.6" cy="519.9" rx="6.1" ry="7.9" fill-opacity="0.10"/>
<ellipse cx="599.6" cy="547.2" rx="6.1" ry="7.9" fill-opacity="0.08"/>
<ellipse cx="599.6" cy="574.5" rx="6.1" ry="7.9" fill-opacity="0.07"/>
<ellipse cx="599.6" cy="601.8" rx="6.1" ry="7.9" fill-opacity="0.05"/>
<ellipse cx="599.6" cy="629.1" rx="6.1" ry="7.9" fill-opacity="0.04"/>
<ellipse cx="599.6" cy="656.4" rx="6.1" ry="7.9" fill-opacity="0.02"/>
<ellipse cx="615.4" cy="-2.9" rx="6.0" ry="7.8" fill-opacity="0.28"/>
<ellipse cx="615.4" cy="24.5" rx="6.0" ry="7.8" fill-opacity="0.29"/>
<ellipse cx="615.4" cy="51.9" rx="6.0" ry="7.8" fill-opacity="0.30"/>
<ellipse cx="615.4" cy="79.4" rx="6.0" ry="7.8" fill-opacity="0.30"/>
<ellipse cx="615.4" cy="106.8" rx="6.0" ry="7.8" fill-opacity="0.31"/>
<ellipse cx="615.4" cy="134.2" rx="6.0" ry="7.8" fill-opacity="0.31"/>
<ellipse cx="615.4" cy="161.6" rx="6.0" ry="7.8" fill-opacity="0.30"/>
<ellipse cx="615.4" cy="189.0" rx="6.0" ry="7.8" fill-opacity="0.28"/>
<ellipse cx="615.4" cy="216.5" rx="6.0" ry="7.8" fill-opacity="0.27"/>
<ellipse cx="615.4" cy="243.9" rx="6.0" ry="7.8" fill-opacity="0.25"/>
<ellipse cx="615.4" cy="271.3" rx="6.0" ry="7.8" fill-opacity="0.24"/>
<ellipse cx="615.4" cy="298.7" rx="6.0" ry="7.8" fill-opacity="0.22"/>
<ellipse cx="615.4" cy="326.2" rx="6.0" ry="7.8" fill-opacity="0.20"/>
<ellipse cx="615.4" cy="353.6" rx="6.0" ry="7.8" fill-opacity="0.19"/>
<ellipse cx="615.4" cy="381.0" rx="6.0" ry="7.8" fill-opacity="0.17"/>
<ellipse cx="615.4" cy="408.4" rx="6.0" ry="7.8" fill-opacity="0.16"/>
<ellipse cx="615.4" cy="435.8" rx="6.0" ry="7.8" fill-opacity="0.14"/>
<ellipse cx="615.4" cy="463.3" rx="6.0" ry="7.8" fill-opacity="0.13"/>
<ellipse cx="615.4" cy="490.7" rx="6.0" ry="7.8" fill-opacity="0.11"/>
<ellipse cx="615.4" cy="518.1" rx="6.0" ry="7.8" fill-opacity="0.10"/>
<ellipse cx="615.4" cy="545.5" rx="6.0" ry="7.8" fill-opacity="0.08"/>
<ellipse cx="615.4" cy="573.0" rx="6.0" ry="7.8" fill-opacity="0.07"/>
<ellipse cx="615.4" cy="600.4" rx="6.0" ry="7.8" fill-opacity="0.05"/>
<ellipse cx="615.4" cy="627.8" rx="6.0" ry="7.8" fill-opacity="0.04"/>
<ellipse cx="615.4" cy="655.2" rx="6.0" ry="7.8" fill-opacity="0.02"/>
<ellipse cx="631.2" cy="-7.1" rx="5.9" ry="7.8" fill-opacity="0.29"/>
<ellipse cx="631.2" cy="20.5" rx="5.9" ry="7.8" fill-opacity="0.30"/>
<ellipse cx="631.2" cy="48.0" rx="5.9" ry="7.8" fill-opacity="0.30"/>
<ellipse cx="631.2" cy="75.6" rx="5.9" ry="7.8" fill-opacity="0.31"/>
<ellipse cx="631.2" cy="103.1" rx="5.9" ry="7.8" fill-opacity="0.32"/>
<ellipse cx="631.2" cy="130.7" rx="5.9" ry="7.8" fill-opacity="0.32"/>
<ellipse cx="631.2" cy="158.2" rx="5.9" ry="7.8" fill-opacity="0.31"/>
<ellipse cx="631.2" cy="185.8" rx="5.9" ry="7.8" fill-opacity="0.29"/>
<ellipse cx="631.2" cy="213.3" rx="5.9" ry="7.8" fill-opacity="0.27"/>
<ellipse cx="631.2" cy="240.9" rx="5.9" ry="7.8" fill-opacity="0.26"/>
<ellipse cx="631.2" cy="268.4" rx="5.9" ry="7.8" fill-opacity="0.24"/>
<ellipse cx="631.2" cy="296.0" rx="5.9" ry="7.8" fill-opacity="0.23"/>
<ellipse cx="631.2" cy="323.5" rx="5.9" ry="7.8" fill-opacity="0.21"/>
<ellipse cx="631.2" cy="351.1" rx="5.9" ry="7.8" fill-opacity="0.19"/>
<ellipse cx="631.2" cy="378.6" rx="5.9" ry="7.8" fill-opacity="0.18"/>
<ellipse cx="631.2" cy="406.2" rx="5.9" ry="7.8" fill-opacity="0.16"/>
<ellipse cx="631.2" cy="433.7" rx="5.9" ry="7.8" fill-opacity="0.14"/>
<ellipse cx="631.2" cy="461.3" rx="5.9" ry="7.8" fill-opacity="0.13"/>
<ellipse cx="631.2" cy="488.8" rx="5.9" ry="7.8" fill-opacity="0.11"/>
<ellipse cx="631.2" cy="516.4" rx="5.9" ry="7.8" fill-opacity="0.10"/>
<ellipse cx="631.2" cy="543.9" rx="5.9" ry="7.8" fill-opacity="0.08"/>
<ellipse cx="631.2" cy="571.5" rx="5.9" ry="7.8" fill-opacity="0.07"/>
<ellipse cx="631.2" cy="599.0" rx="5.9" ry="7.8" fill-opacity="0.05"/>
<ellipse cx="631.2" cy="626.6" rx="5.9" ry="7.8" fill-opacity="0.04"/>
<ellipse cx="631.2" cy="654.1" rx="5.9" ry="7.8" fill-opacity="0.02"/>
<ellipse cx="647.3" cy="-11.2" rx="5.8" ry="7.7" fill-opacity="0.30"/>
<ellipse cx="647.3" cy="16.5" rx="5.8" ry="7.7" fill-opacity="0.30"/>
<ellipse cx="647.3" cy="44.1" rx="5.8" ry="7.7" fill-opacity="0.31"/>
<ellipse cx="647.3" cy="71.8" rx="5.8" ry="7.7" fill-opacity="0.32"/>
<ellipse cx="647.3" cy="99.5" rx="5.8" ry="7.7" fill-opacity="0.32"/>
<ellipse cx="647.3" cy="127.2" rx="5.8" ry="7.7" fill-opacity="0.33"/>
<ellipse cx="647.3" cy="154.9" rx="5.8" ry="7.7" fill-opacity="0.31"/>
<ellipse cx="647.3" cy="182.5" rx="5.8" ry="7.7" fill-opacity="0.30"/>
<ellipse cx="647.3" cy="210.2" rx="5.8" ry="7.7" fill-opacity="0.28"/>
<ellipse cx="647.3" cy="237.9" rx="5.8" ry="7.7" fill-opacity="0.27"/>
<ellipse cx="647.3" cy="265.6" rx="5.8" ry="7.7" fill-opacity="0.25"/>
<ellipse cx="647.3" cy="293.2" rx="5.8" ry="7.7" fill-opacity="0.23"/>
<ellipse cx="647.3" cy="320.9" rx="5.8" ry="7.7" fill-opacity="0.21"/>
<ellipse cx="647.3" cy="348.6" rx="5.8" ry="7.7" fill-opacity="0.20"/>
<ellipse cx="647.3" cy="376.3" rx="5.8" ry="7.7" fill-opacity="0.18"/>
<ellipse cx="647.3" cy="404.0" rx="5.8" ry="7.7" fill-opacity="0.16"/>
<ellipse cx="647.3" cy="431.6" rx="5.8" ry="7.7" fill-opacity="0.14"/>
<ellipse cx="647.3" cy="459.3" rx="5.8" ry="7.7" fill-opacity="0.13"/>
<ellipse cx="647.3" cy="487.0" rx="5.8" ry="7.7" fill-opacity="0.11"/>
<ellipse cx="647.3" cy="514.7" rx="5.8" ry="7.7" fill-opacity="0.10"/>
<ellipse cx="647.3" cy="542.3" rx="5.8" ry="7.7" fill-opacity="0.08"/>
<ellipse cx="647.3" cy="570.0" rx="5.8" ry="7.7" fill-opacity="0.07"/>
<ellipse cx="647.3" cy="597.7" rx="5.8" ry="7.7" fill-opacity="0.05"/>
<ellipse cx="647.3" cy="625.4" rx="5.8" ry="7.7" fill-opacity="0.04"/>
<ellipse cx="647.3" cy="653.1" rx="5.8" ry="7.7" fill-opacity="0.02"/>
<ellipse cx="663.4" cy="-15.3" rx="5.6" ry="7.6" fill-opacity="0.31"/>
<ellipse cx="663.4" cy="12.5" rx="5.6" ry="7.6" fill-opacity="0.31"/>
<ellipse cx="663.4" cy="40.3" rx="5.6" ry="7.6" fill-opacity="0.32"/>
<ellipse cx="663.4" cy="68.1" rx="5.6" ry="7.6" fill-opacity="0.32"/>
<ellipse cx="663.4" cy="95.9" rx="5.6" ry="7.6" fill-opacity="0.33"/>
<ellipse cx="663.4" cy="123.7" rx="5.6" ry="7.6" fill-opacity="0.33"/>
<ellipse cx="663.4" cy="151.5" rx="5.6" ry="7.6" fill-opacity="0.32"/>
<ellipse cx="663.4" cy="179.4" rx="5.6" ry="7.6" fill-opacity="0.30"/>
<ellipse cx="663.4" cy="207.2" rx="5.6" ry="7.6" fill-opacity="0.29"/>
<ellipse cx="663.4" cy="235.0" rx="5.6" ry="7.6" fill-opacity="0.27"/>
<ellipse cx="663.4" cy="262.8" rx="5.6" ry="7.6" fill-opacity="0.25"/>
<ellipse cx="663.4" cy="290.6" rx="5.6" ry="7.6" fill-opacity="0.24"/>
<ellipse cx="663.4" cy="318.4" rx="5.6" ry="7.6" fill-opacity="0.22"/>
<ellipse cx="663.4" cy="346.2" rx="5.6" ry="7.6" fill-opacity="0.20"/>
<ellipse cx="663.4" cy="374.0" rx="5.6" ry="7.6" fill-opacity="0.18"/>
<ellipse cx="663.4" cy="401.8" rx="5.6" ry="7.6" fill-opacity="0.16"/>
<ellipse cx="663.4" cy="429.6" rx="5.6" ry="7.6" fill-opacity="0.14"/>
<ellipse cx="663.4" cy="457.4" rx="5.6" ry="7.6" fill-opacity="0.13"/>
<ellipse cx="663.4" cy="485.2" rx="5.6" ry="7.6" fill-opacity="0.11"/>
<ellipse cx="663.4" cy="513.0" rx="5.6" ry="7.6" fill-opacity="0.10"/>
<ellipse cx="663.4" cy="540.9" rx="5.6" ry="7.6" fill-opacity="0.08"/>
<ellipse cx="663.4" cy="568.7" rx="5.6" ry="7.6" fill-opacity="0.07"/>
<ellipse cx="663.4" cy="596.5" rx="5.6" ry="7.6" fill-opacity="0.05"/>
<ellipse cx="663.4" cy="624.3" rx="5.6" ry="7.6" fill-opacity="0.04"/>
<ellipse cx="663.4" cy="652.1" rx="5.6" ry="7.6" fill-opacity="0.02"/>
<ellipse cx="679.8" cy="-19.3" rx="5.5" ry="7.5" fill-opacity="0.32"/>
<ellipse cx="679.8" cy="8.6" rx="5.5" ry="7.5" fill-opacity="0.32"/>
<ellipse cx="679.8" cy="36.5" rx="5.5" ry="7.5" fill-opacity="0.33"/>
<ellipse cx="679.8" cy="64.5" rx="5.5" ry="7.5" fill-opacity="0.33"/>
<ellipse cx="679.8" cy="92.4" rx="5.5" ry="7.5" fill-opacity="0.33"/>
<ellipse cx="679.8" cy="120.4" rx="5.5" ry="7.5" fill-opacity="0.34"/>
<ellipse cx="679.8" cy="148.3" rx="5.5" ry="7.5" fill-opacity="0.33"/>
<ellipse cx="679.8" cy="176.2" rx="5.5" ry="7.5" fill-opacity="0.31"/>
<ellipse cx="679.8" cy="204.2" rx="5.5" ry="7.5" fill-opacity="0.29"/>
<ellipse cx="679.8" cy="232.1" rx="5.5" ry="7.5" fill-opacity="0.28"/>
<ellipse cx="679.8" cy="260.1" rx="5.5" ry="7.5" fill-opacity="0.26"/>
<ellipse cx="679.8" cy="288.0" rx="5.5" ry="7.5" fill-opacity="0.24"/>
<ellipse cx="679.8" cy="315.9" rx="5.5" ry="7.5" fill-opacity="0.22"/>
<ellipse cx="679.8" cy="343.9" rx="5.5" ry="7.5" fill-opacity="0.20"/>
<ellipse cx="679.8" cy="371.8" rx="5.5" ry="7.5" fill-opacity="0.18"/>
<ellipse cx="679.8" cy="399.7" rx="5.5" ry="7.5" fill-opacity="0.16"/>
<ellipse cx="679.8" cy="427.7" rx="5.5" ry="7.5" fill-opacity="0.15"/>
<ellipse cx="679.8" cy="455.6" rx="5.5" ry="7.5" fill-opacity="0.13"/>
<ellipse cx="679.8" cy="483.6" rx="5.5" ry="7.5" fill-opacity="0.11"/>
<ellipse cx="679.8" cy="511.5" rx="5.5" ry="7.5" fill-opacity="0.10"/>
<ellipse cx="679.8" cy="539.4" rx="5.5" ry="7.5" fill-opacity="0.08"/>
<ellipse cx="679.8" cy="567.4" rx="5.5" ry="7.5" fill-opacity="0.06"/>
<ellipse cx="679.8" cy="595.3" rx="5.5" ry="7.5" fill-opacity="0.05"/>
<ellipse cx="679.8" cy="623.2" rx="5.5" ry="7.5" fill-opacity="0.04"/>
<ellipse cx="679.8" cy="651.2" rx="5.5" ry="7.5" fill-opacity="0.02"/>
<ellipse cx="696.3" cy="-23.3" rx="5.4" ry="7.5" fill-opacity="0.33"/>
<ellipse cx="696.3" cy="4.8" rx="5.4" ry="7.5" fill-opacity="0.33"/>
<ellipse cx="696.3" cy="32.8" rx="5.4" ry="7.5" fill-opacity="0.33"/>
<ellipse cx="696.3" cy="60.9" rx="5.4" ry="7.5" fill-opacity="0.34"/>
<ellipse cx="696.3" cy="89.0" rx="5.4" ry="7.5" fill-opacity="0.34"/>
<ellipse cx="696.3" cy="117.0" rx="5.4" ry="7.5" fill-opacity="0.34"/>
<ellipse cx="696.3" cy="145.1" rx="5.4" ry="7.5" fill-opacity="0.33"/>
<ellipse cx="696.3" cy="173.2" rx="5.4" ry="7.5" fill-opacity="0.32"/>
<ellipse cx="696.3" cy="201.3" rx="5.4" ry="7.5" fill-opacity="0.30"/>
<ellipse cx="696.3" cy="229.3" rx="5.4" ry="7.5" fill-opacity="0.28"/>
<ellipse cx="696.3" cy="257.4" rx="5.4" ry="7.5" fill-opacity="0.27"/>
<ellipse cx="696.3" cy="285.5" rx="5.4" ry="7.5" fill-opacity="0.25"/>
<ellipse cx="696.3" cy="313.5" rx="5.4" ry="7.5" fill-opacity="0.23"/>
<ellipse cx="696.3" cy="341.6" rx="5.4" ry="7.5" fill-opacity="0.21"/>
<ellipse cx="696.3" cy="369.7" rx="5.4" ry="7.5" fill-opacity="0.18"/>
<ellipse cx="696.3" cy="397.7" rx="5.4" ry="7.5" fill-opacity="0.16"/>
<ellipse cx="696.3" cy="425.8" rx="5.4" ry="7.5" fill-opacity="0.15"/>
<ellipse cx="696.3" cy="453.9" rx="5.4" ry="7.5" fill-opacity="0.13"/>
<ellipse cx="696.3" cy="482.0" rx="5.4" ry="7.5" fill-opacity="0.11"/>
<ellipse cx="696.3" cy="510.0" rx="5.4" ry="7.5" fill-opacity="0.10"/>
<ellipse cx="696.3" cy="538.1" rx="5.4" ry="7.5" fill-opacity="0.08"/>
<ellipse cx="696.3" cy="566.2" rx="5.4" ry="7.5" fill-opacity="0.06"/>
<ellipse cx="696.3" cy="594.2" rx="5.4" ry="7.5" fill-opacity="0.05"/>
<ellipse cx="696.3" cy="622.3" rx="5.4" ry="7.5" fill-opacity="0.04"/>
<ellipse cx="696.3" cy="650.4" rx="5.4" ry="7.5" fill-opacity="0.02"/>
<ellipse cx="712.9" cy="-27.2" rx="5.2" ry="7.4" fill-opacity="0.34"/>
<ellipse cx="712.9" cy="1.0" rx="5.2" ry="7.4" fill-opacity="0.34"/>
<ellipse cx="712.9" cy="29.2" rx="5.2" ry="7.4" fill-opacity="0.34"/>
<ellipse cx="712.9" cy="57.4" rx="5.2" ry="7.4" fill-opacity="0.34"/>
<ellipse cx="712.9" cy="85.6" rx="5.2" ry="7.4" fill-opacity="0.35"/>
<ellipse cx="712.9" cy="113.8" rx="5.2" ry="7.4" fill-opacity="0.35"/>
<ellipse cx="712.9" cy="142.0" rx="5.2" ry="7.4" fill-opacity="0.34"/>
<ellipse cx="712.9" cy="170.2" rx="5.2" ry="7.4" fill-opacity="0.32"/>
<ellipse cx="712.9" cy="198.4" rx="5.2" ry="7.4" fill-opacity="0.31"/>
<ellipse cx="712.9" cy="226.6" rx="5.2" ry="7.4" fill-opacity="0.29"/>
<ellipse cx="712.9" cy="254.8" rx="5.2" ry="7.4" fill-opacity="0.27"/>
<ellipse cx="712.9" cy="283.0" rx="5.2" ry="7.4" fill-opacity="0.25"/>
<ellipse cx="712.9" cy="311.2" rx="5.2" ry="7.4" fill-opacity="0.23"/>
<ellipse cx="712.9" cy="339.4" rx="5.2" ry="7.4" fill-opacity="0.21"/>
<ellipse cx="712.9" cy="367.6" rx="5.2" ry="7.4" fill-opacity="0.19"/>
<ellipse cx="712.9" cy="395.8" rx="5.2" ry="7.4" fill-opacity="0.17"/>
<ellipse cx="712.9" cy="424.0" rx="5.2" ry="7.4" fill-opacity="0.15"/>
<ellipse cx="712.9" cy="452.2" rx="5.2" ry="7.4" fill-opacity="0.13"/>
<ellipse cx="712.9" cy="480.4" rx="5.2" ry="7.4" fill-opacity="0.11"/>
<ellipse cx="712.9" cy="508.6" rx="5.2" ry="7.4" fill-opacity="0.09"/>
<ellipse cx="712.9" cy="536.8" rx="5.2" ry="7.4" fill-opacity="0.08"/>
<ellipse cx="712.9" cy="565.0" rx="5.2" ry="7.4" fill-opacity="0.06"/>
<ellipse cx="712.9" cy="593.2" rx="5.2" ry="7.4" fill-opacity="0.05"/>
<ellipse cx="712.9" cy="621.4" rx="5.2" ry="7.4" fill-opacity="0.04"/>
<ellipse cx="712.9" cy="649.6" rx="5.2" ry="7.4" fill-opacity="0.02"/>
<ellipse cx="729.7" cy="-2.8" rx="5.1" ry="7.3" fill-opacity="0.35"/>
<ellipse cx="729.7" cy="25.6" rx="5.1" ry="7.3" fill-opacity="0.35"/>
<ellipse cx="729.7" cy="53.9" rx="5.1" ry="7.3" fill-opacity="0.35"/>
<ellipse cx="729.7" cy="82.2" rx="5.1" ry="7.3" fill-opacity="0.35"/>
<ellipse cx="729.7" cy="110.6" rx="5.1" ry="7.3" fill-opacity="0.35"/>
<ellipse cx="729.7" cy="138.9" rx="5.1" ry="7.3" fill-opacity="0.35"/>
<ellipse cx="729.7" cy="167.3" rx="5.1" ry="7.3" fill-opacity="0.33"/>
<ellipse cx="729.7" cy="195.6" rx="5.1" ry="7.3" fill-opacity="0.31"/>
<ellipse cx="729.7" cy="223.9" rx="5.1" ry="7.3" fill-opacity="0.30"/>
<ellipse cx="729.7" cy="252.3" rx="5.1" ry="7.3" fill-opacity="0.28"/>
<ellipse cx="729.7" cy="280.6" rx="5.1" ry="7.3" fill-opacity="0.26"/>
<ellipse cx="729.7" cy="308.9" rx="5.1" ry="7.3" fill-opacity="0.23"/>
<ellipse cx="729.7" cy="337.3" rx="5.1" ry="7.3" fill-opacity="0.21"/>
<ellipse cx="729.7" cy="365.6" rx="5.1" ry="7.3" fill-opacity="0.19"/>
<ellipse cx="729.7" cy="394.0" rx="5.1" ry="7.3" fill-opacity="0.17"/>
<ellipse cx="729.7" cy="422.3" rx="5.1" ry="7.3" fill-opacity="0.15"/>
<ellipse cx="729.7" cy="450.6" rx="5.1" ry="7.3" fill-opacity="0.13"/>
<ellipse cx="729.7" cy="479.0" rx="5.1" ry="7.3" fill-opacity="0.11"/>
<ellipse cx="729.7" cy="507.3" rx="5.1" ry="7.3" fill-opacity="0.09"/>
<ellipse cx="729.7" cy="535.6" rx="5.1" ry="7.3" fill-opacity="0.08"/>
<ellipse cx="729.7" cy="564.0" rx="5.1" ry="7.3" fill-opacity="0.06"/>
<ellipse cx="729.7" cy="592.3" rx="5.1" ry="7.3" fill-opacity="0.05"/>
<ellipse cx="729.7" cy="620.7" rx="5.1" ry="7.3" fill-opacity="0.04"/>
<ellipse cx="729.7" cy="649.0" rx="5.1" ry="7.3" fill-opacity="0.02"/>
<ellipse cx="746.7" cy="-6.5" rx="4.9" ry="7.2" fill-opacity="0.36"/>
<ellipse cx="746.7" cy="22.0" rx="4.9" ry="7.2" fill-opacity="0.36"/>
<ellipse cx="746.7" cy="50.5" rx="4.9" ry="7.2" fill-opacity="0.36"/>
<ellipse cx="746.7" cy="79.0" rx="4.9" ry="7.2" fill-opacity="0.36"/>
<ellipse cx="746.7" cy="107.4" rx="4.9" ry="7.2" fill-opacity="0.36"/>
<ellipse cx="746.7" cy="135.9" rx="4.9" ry="7.2" fill-opacity="0.35"/>
<ellipse cx="746.7" cy="164.4" rx="4.9" ry="7.2" fill-opacity="0.34"/>
<ellipse cx="746.7" cy="192.9" rx="4.9" ry="7.2" fill-opacity="0.32"/>
<ellipse cx="746.7" cy="221.3" rx="4.9" ry="7.2" fill-opacity="0.30"/>
<ellipse cx="746.7" cy="249.8" rx="4.9" ry="7.2" fill-opacity="0.29"/>
<ellipse cx="746.7" cy="278.3" rx="4.9" ry="7.2" fill-opacity="0.26"/>
<ellipse cx="746.7" cy="306.8" rx="4.9" ry="7.2" fill-opacity="0.24"/>
<ellipse cx="746.7" cy="335.2" rx="4.9" ry="7.2" fill-opacity="0.22"/>
<ellipse cx="746.7" cy="363.7" rx="4.9" ry="7.2" fill-opacity="0.19"/>
<ellipse cx="746.7" cy="392.2" rx="4.9" ry="7.2" fill-opacity="0.17"/>
<ellipse cx="746.7" cy="420.6" rx="4.9" ry="7.2" fill-opacity="0.15"/>
<ellipse cx="746.7" cy="449.1" rx="4.9" ry="7.2" fill-opacity="0.13"/>
<ellipse cx="746.7" cy="477.6" rx="4.9" ry="7.2" fill-opacity="0.11"/>
<ellipse cx="746.7" cy="506.1" rx="4.9" ry="7.2" fill-opacity="0.09"/>
<ellipse cx="746.7" cy="534.5" rx="4.9" ry="7.2" fill-opacity="0.08"/>
<ellipse cx="746.7" cy="563.0" rx="4.9" ry="7.2" fill-opacity="0.06"/>
<ellipse cx="746.7" cy="591.5" rx="4.9" ry="7.2" fill-opacity="0.05"/>
<ellipse cx="746.7" cy="620.0" rx="4.9" ry="7.2" fill-opacity="0.03"/>
<ellipse cx="746.7" cy="648.4" rx="4.9" ry="7.2" fill-opacity="0.02"/>
<ellipse cx="763.8" cy="-10.1" rx="4.8" ry="7.1" fill-opacity="0.36"/>
<ellipse cx="763.8" cy="18.5" rx="4.8" ry="7.1" fill-opacity="0.36"/>
<ellipse cx="763.8" cy="47.1" rx="4.8" ry="7.1" fill-opacity="0.36"/>
<ellipse cx="763.8" cy="75.8" rx="4.8" ry="7.1" fill-opacity="0.36"/>
<ellipse cx="763.8" cy="104.4" rx="4.8" ry="7.1" fill-opacity="0.36"/>
<ellipse cx="763.8" cy="133.0" rx="4.8" ry="7.1" fill-opacity="0.35"/>
<ellipse cx="763.8" cy="161.6" rx="4.8" ry="7.1" fill-opacity="0.34"/>
<ellipse cx="763.8" cy="190.2" rx="4.8" ry="7.1" fill-opacity="0.32"/>
<ellipse cx="763.8" cy="218.8" rx="4.8" ry="7.1" fill-opacity="0.30"/>
<ellipse cx="763.8" cy="247.4" rx="4.8" ry="7.1" fill-opacity="0.29"/>
<ellipse cx="763.8" cy="276.0" rx="4.8" ry="7.1" fill-opacity="0.26"/>
<ellipse cx="763.8" cy="304.6" rx="4.8" ry="7.1" fill-opacity="0.24"/>
<ellipse cx="763.8" cy="333.3" rx="4.8" ry="7.1" fill-opacity="0.21"/>
<ellipse cx="763.8" cy="361.9" rx="4.8" ry="7.1" fill-opacity="0.19"/>
<ellipse cx="763.8" cy="390.5" rx="4.8" ry="7.1" fill-opacity="0.16"/>
<ellipse cx="763.8" cy="419.1" rx="4.8" ry="7.1" fill-opacity="0.14"/>
<ellipse cx="763.8" cy="447.7" rx="4.8" ry="7.1" fill-opacity="0.13"/>
<ellipse cx="763.8" cy="476.3" rx="4.8" ry="7.1" fill-opacity="0.11"/>
<ellipse cx="763.8" cy="504.9" rx="4.8" ry="7.1" fill-opacity="0.09"/>
<ellipse cx="763.8" cy="533.5" rx="4.8" ry="7.1" fill-opacity="0.07"/>
<ellipse cx="763.8" cy="562.1" rx="4.8" ry="7.1" fill-opacity="0.06"/>
<ellipse cx="763.8" cy="590.8" rx="4.8" ry="7.1" fill-opacity="0.04"/>
<ellipse cx="763.8" cy="619.4" rx="4.8" ry="7.1" fill-opacity="0.03"/>
<ellipse cx="763.8" cy="648.0" rx="4.8" ry="7.1" fill-opacity="0.02"/>
<ellipse cx="781.2" cy="-13.6" rx="4.6" ry="7.0" fill-opacity="0.36"/>
<ellipse cx="781.2" cy="15.1" rx="4.6" ry="7.0" fill-opacity="0.36"/>
<ellipse cx="781.2" cy="43.9" rx="4.6" ry="7.0" fill-opacity="0.36"/>
<ellipse cx="781.2" cy="72.6" rx="4.6" ry="7.0" fill-opacity="0.36"/>
<ellipse cx="781.2" cy="101.4" rx="4.6" ry="7.0" fill-opacity="0.36"/>
<ellipse cx="781.2" cy="130.1" rx="4.6" ry="7.0" fill-opacity="0.35"/>
<ellipse cx="781.2" cy="158.9" rx="4.6" ry="7.0" fill-opacity="0.33"/>
<ellipse cx="781.2" cy="187.6" rx="4.6" ry="7.0" fill-opacity="0.32"/>
<ellipse cx="781.2" cy="216.4" rx="4.6" ry="7.0" fill-opacity="0.30"/>
<ellipse cx="781.2" cy="245.1" rx="4.6" ry="7.0" fill-opacity="0.28"/>
<ellipse cx="781.2" cy="273.9" rx="4.6" ry="7.0" fill-opacity="0.26"/>
<ellipse cx="781.2" cy="302.6" rx="4.6" ry="7.0" fill-opacity="0.23"/>
<ellipse cx="781.2" cy="331.4" rx="4.6" ry="7.0" fill-opacity="0.21"/>
<ellipse cx="781.2" cy="360.1" rx="4.6" ry="7.0" fill-opacity="0.18"/>
<ellipse cx="781.2" cy="388.9" rx="4.6" ry="7.0" fill-opacity="0.16"/>
<ellipse cx="781.2" cy="417.6" rx="4.6" ry="7.0" fill-opacity="0.14"/>
<ellipse cx="781.2" cy="446.4" rx="4.6" ry="7.0" fill-opacity="0.12"/>
<ellipse cx="781.2" cy="475.1" rx="4.6" ry="7.0" fill-opacity="0.10"/>
<ellipse cx="781.2" cy="503.9" rx="4.6" ry="7.0" fill-opacity="0.08"/>
<ellipse cx="781.2" cy="532.6" rx="4.6" ry="7.0" fill-opacity="0.07"/>
<ellipse cx="781.2" cy="561.4" rx="4.6" ry="7.0" fill-opacity="0.05"/>
<ellipse cx="781.2" cy="590.1" rx="4.6" ry="7.0" fill-opacity="0.04"/>
<ellipse cx="781.2" cy="618.9" rx="4.6" ry="7.0" fill-opacity="0.03"/>
<ellipse cx="781.2" cy="647.6" rx="4.6" ry="7.0" fill-opacity="0.02"/>
<ellipse cx="798.6" cy="-17.1" rx="4.4" ry="6.9" fill-opacity="0.36"/>
<ellipse cx="798.6" cy="11.8" rx="4.4" ry="6.9" fill-opacity="0.36"/>
<ellipse cx="798.6" cy="40.7" rx="4.4" ry="6.9" fill-opacity="0.36"/>
<ellipse cx="798.6" cy="69.5" rx="4.4" ry="6.9" fill-opacity="0.36"/>
<ellipse cx="798.6" cy="98.4" rx="4.4" ry="6.9" fill-opacity="0.35"/>
<ellipse cx="798.6" cy="127.3" rx="4.4" ry="6.9" fill-opacity="0.35"/>
<ellipse cx="798.6" cy="156.2" rx="4.4" ry="6.9" fill-opacity="0.33"/>
<ellipse cx="798.6" cy="185.1" rx="4.4" ry="6.9" fill-opacity="0.32"/>
<ellipse cx="798.6" cy="214.0" rx="4.4" ry="6.9" fill-opacity="0.30"/>
<ellipse cx="798.6" cy="242.9" rx="4.4" ry="6.9" fill-opacity="0.28"/>
<ellipse cx="798.6" cy="271.8" rx="4.4" ry="6.9" fill-opacity="0.25"/>
<ellipse cx="798.6" cy="300.7" rx="4.4" ry="6.9" fill-opacity="0.23"/>
<ellipse cx="798.6" cy="329.6" rx="4.4" ry="6.9" fill-opacity="0.20"/>
<ellipse cx="798.6" cy="358.4" rx="4.4" ry="6.9" fill-opacity="0.18"/>
<ellipse cx="798.6" cy="387.3" rx="4.4" ry="6.9" fill-opacity="0.15"/>
<ellipse cx="798.6" cy="416.2" rx="4.4" ry="6.9" fill-opacity="0.13"/>
<ellipse cx="798.6" cy="445.1" rx="4.4" ry="6.9" fill-opacity="0.11"/>
<ellipse cx="798.6" cy="474.0" rx="4.4" ry="6.9" fill-opacity="0.10"/>
<ellipse cx="798.6" cy="502.9" rx="4.4" ry="6.9" fill-opacity="0.08"/>
<ellipse cx="798.6" cy="531.8" rx="4.4" ry="6.9" fill-opacity="0.06"/>
<ellipse cx="798.6" cy="560.7" rx="4.4" ry="6.9" fill-opacity="0.05"/>
<ellipse cx="798.6" cy="589.6" rx="4.4" ry="6.9" fill-opacity="0.04"/>
<ellipse cx="798.6" cy="618.4" rx="4.4" ry="6.9" fill-opacity="0.03"/>
<ellipse cx="798.6" cy="647.3" rx="4.4" ry="6.9" fill-opacity="0.02"/>
<ellipse cx="816.3" cy="-20.5" rx="4.5" ry="7.0" fill-opacity="0.36"/>
<ellipse cx="816.3" cy="8.5" rx="4.5" ry="7.0" fill-opacity="0.36"/>
<ellipse cx="816.3" cy="37.5" rx="4.5" ry="7.0" fill-opacity="0.36"/>
<ellipse cx="816.3" cy="66.6" rx="4.5" ry="7.0" fill-opacity="0.35"/>
<ellipse cx="816.3" cy="95.6" rx="4.5" ry="7.0" fill-opacity="0.35"/>
<ellipse cx="816.3" cy="124.6" rx="4.5" ry="7.0" fill-opacity="0.35"/>
<ellipse cx="816.3" cy="153.6" rx="4.5" ry="7.0" fill-opacity="0.33"/>
<ellipse cx="816.3" cy="182.7" rx="4.5" ry="7.0" fill-opacity="0.31"/>
<ellipse cx="816.3" cy="211.7" rx="4.5" ry="7.0" fill-opacity="0.29"/>
<ellipse cx="816.3" cy="240.7" rx="4.5" ry="7.0" fill-opacity="0.27"/>
<ellipse cx="816.3" cy="269.8" rx="4.5" ry="7.0" fill-opacity="0.25"/>
<ellipse cx="816.3" cy="298.8" rx="4.5" ry="7.0" fill-opacity="0.22"/>
<ellipse cx="816.3" cy="327.8" rx="4.5" ry="7.0" fill-opacity="0.20"/>
<ellipse cx="816.3" cy="356.9" rx="4.5" ry="7.0" fill-opacity="0.17"/>
<ellipse cx="816.3" cy="385.9" rx="4.5" ry="7.0" fill-opacity="0.15"/>
<ellipse cx="816.3" cy="414.9" rx="4.5" ry="7.0" fill-opacity="0.12"/>
<ellipse cx="816.3" cy="443.9" rx="4.5" ry="7.0" fill-opacity="0.11"/>
<ellipse cx="816.3" cy="473.0" rx="4.5" ry="7.0" fill-opacity="0.09"/>
<ellipse cx="816.3" cy="502.0" rx="4.5" ry="7.0" fill-opacity="0.07"/>
<ellipse cx="816.3" cy="531.0" rx="4.5" ry="7.0" fill-opacity="0.06"/>
<ellipse cx="816.3" cy="560.1" rx="4.5" ry="7.0" fill-opacity="0.04"/>
<ellipse cx="816.3" cy="589.1" rx="4.5" ry="7.0" fill-opacity="0.03"/>
<ellipse cx="816.3" cy="618.1" rx="4.5" ry="7.0" fill-opacity="0.02"/>
<ellipse cx="816.3" cy="647.2" rx="4.5" ry="7.0" fill-opacity="0.02"/>
<ellipse cx="834.1" cy="-23.9" rx="4.5" ry="7.0" fill-opacity="0.36"/>
<ellipse cx="834.1" cy="5.3" rx="4.5" ry="7.0" fill-opacity="0.36"/>
<ellipse cx="834.1" cy="34.5" rx="4.5" ry="7.0" fill-opacity="0.36"/>
<ellipse cx="834.1" cy="63.6" rx="4.5" ry="7.0" fill-opacity="0.35"/>
<ellipse cx="834.1" cy="92.8" rx="4.5" ry="7.0" fill-opacity="0.35"/>
<ellipse cx="834.1" cy="122.0" rx="4.5" ry="7.0" fill-opacity="0.35"/>
<ellipse cx="834.1" cy="151.2" rx="4.5" ry="7.0" fill-opacity="0.33"/>
<ellipse cx="834.1" cy="180.3" rx="4.5" ry="7.0" fill-opacity="0.31"/>
<ellipse cx="834.1" cy="209.5" rx="4.5" ry="7.0" fill-opacity="0.29"/>
<ellipse cx="834.1" cy="238.7" rx="4.5" ry="7.0" fill-opacity="0.27"/>
<ellipse cx="834.1" cy="267.8" rx="4.5" ry="7.0" fill-opacity="0.25"/>
<ellipse cx="834.1" cy="297.0" rx="4.5" ry="7.0" fill-opacity="0.22"/>
<ellipse cx="834.1" cy="326.2" rx="4.5" ry="7.0" fill-opacity="0.19"/>
<ellipse cx="834.1" cy="355.4" rx="4.5" ry="7.0" fill-opacity="0.17"/>
<ellipse cx="834.1" cy="384.5" rx="4.5" ry="7.0" fill-opacity="0.14"/>
<ellipse cx="834.1" cy="413.7" rx="4.5" ry="7.0" fill-opacity="0.12"/>
<ellipse cx="834.1" cy="442.9" rx="4.5" ry="7.0" fill-opacity="0.10"/>
<ellipse cx="834.1" cy="472.1" rx="4.5" ry="7.0" fill-opacity="0.08"/>
<ellipse cx="834.1" cy="501.2" rx="4.5" ry="7.0" fill-opacity="0.07"/>
<ellipse cx="834.1" cy="530.4" rx="4.5" ry="7.0" fill-opacity="0.05"/>
<ellipse cx="834.1" cy="559.6" rx="4.5" ry="7.0" fill-opacity="0.04"/>
<ellipse cx="834.1" cy="588.7" rx="4.5" ry="7.0" fill-opacity="0.03"/>
<ellipse cx="834.1" cy="617.9" rx="4.5" ry="7.0" fill-opacity="0.02"/>
<ellipse cx="834.1" cy="647.1" rx="4.5" ry="7.0" fill-opacity="0.01"/>
<ellipse cx="852.1" cy="-27.2" rx="4.5" ry="7.0" fill-opacity="0.36"/>
<ellipse cx="852.1" cy="2.2" rx="4.5" ry="7.0" fill-opacity="0.36"/>
<ellipse cx="852.1" cy="31.5" rx="4.5" ry="7.0" fill-opacity="0.36"/>
<ellipse cx="852.1" cy="60.8" rx="4.5" ry="7.0" fill-opacity="0.35"/>
<ellipse cx="852.1" cy="90.1" rx="4.5" ry="7.0" fill-opacity="0.35"/>
<ellipse cx="852.1" cy="119.4" rx="4.5" ry="7.0" fill-opacity="0.35"/>
<ellipse cx="852.1" cy="148.7" rx="4.5" ry="7.0" fill-opacity="0.33"/>
<ellipse cx="852.1" cy="178.1" rx="4.5" ry="7.0" fill-opacity="0.31"/>
<ellipse cx="852.1" cy="207.4" rx="4.5" ry="7.0" fill-opacity="0.29"/>
<ellipse cx="852.1" cy="236.7" rx="4.5" ry="7.0" fill-opacity="0.27"/>
<ellipse cx="852.1" cy="266.0" rx="4.5" ry="7.0" fill-opacity="0.24"/>
<ellipse cx="852.1" cy="295.3" rx="4.5" ry="7.0" fill-opacity="0.22"/>
<ellipse cx="852.1" cy="324.6" rx="4.5" ry="7.0" fill-opacity="0.19"/>
<ellipse cx="852.1" cy="354.0" rx="4.5" ry="7.0" fill-opacity="0.16"/>
<ellipse cx="852.1" cy="383.3" rx="4.5" ry="7.0" fill-opacity="0.13"/>
<ellipse cx="852.1" cy="412.6" rx="4.5" ry="7.0" fill-opacity="0.11"/>
<ellipse cx="852.1" cy="441.9" rx="4.5" ry="7.0" fill-opacity="0.09"/>
<ellipse cx="852.1" cy="471.2" rx="4.5" ry="7.0" fill-opacity="0.08"/>
<ellipse cx="852.1" cy="500.5" rx="4.5" ry="7.0" fill-opacity="0.06"/>
<ellipse cx="852.1" cy="529.9" rx="4.5" ry="7.0" fill-opacity="0.05"/>
<ellipse cx="852.1" cy="559.2" rx="4.5" ry="7.0" fill-opacity="0.03"/>
<ellipse cx="852.1" cy="588.5" rx="4.5" ry="7.0" fill-opacity="0.03"/>
<ellipse cx="852.1" cy="617.8" rx="4.5" ry="7.0" fill-opacity="0.02"/>
<ellipse cx="852.1" cy="647.1" rx="4.5" ry="7.0" fill-opacity="0.01"/>
<ellipse cx="870.3" cy="-0.9" rx="4.6" ry="7.1" fill-opacity="0.36"/>
<ellipse cx="870.3" cy="28.6" rx="4.6" ry="7.1" fill-opacity="0.36"/>
<ellipse cx="870.3" cy="58.0" rx="4.6" ry="7.1" fill-opacity="0.35"/>
<ellipse cx="870.3" cy="87.5" rx="4.6" ry="7.1" fill-opacity="0.35"/>
<ellipse cx="870.3" cy="117.0" rx="4.6" ry="7.1" fill-opacity="0.34"/>
<ellipse cx="870.3" cy="146.4" rx="4.6" ry="7.1" fill-opacity="0.33"/>
<ellipse cx="870.3" cy="175.9" rx="4.6" ry="7.1" fill-opacity="0.31"/>
<ellipse cx="870.3" cy="205.3" rx="4.6" ry="7.1" fill-opacity="0.29"/>
<ellipse cx="870.3" cy="234.8" rx="4.6" ry="7.1" fill-opacity="0.26"/>
<ellipse cx="870.3" cy="264.3" rx="4.6" ry="7.1" fill-opacity="0.24"/>
<ellipse cx="870.3" cy="293.7" rx="4.6" ry="7.1" fill-opacity="0.21"/>
<ellipse cx="870.3" cy="323.2" rx="4.6" ry="7.1" fill-opacity="0.18"/>
<ellipse cx="870.3" cy="352.7" rx="4.6" ry="7.1" fill-opacity="0.16"/>
<ellipse cx="870.3" cy="382.1" rx="4.6" ry="7.1" fill-opacity="0.13"/>
<ellipse cx="870.3" cy="411.6" rx="4.6" ry="7.1" fill-opacity="0.10"/>
<ellipse cx="870.3" cy="441.0" rx="4.6" ry="7.1" fill-opacity="0.09"/>
<ellipse cx="870.3" cy="470.5" rx="4.6" ry="7.1" fill-opacity="0.07"/>
<ellipse cx="870.3" cy="500.0" rx="4.6" ry="7.1" fill-opacity="0.06"/>
<ellipse cx="870.3" cy="529.4" rx="4.6" ry="7.1" fill-opacity="0.04"/>
<ellipse cx="870.3" cy="558.9" rx="4.6" ry="7.1" fill-opacity="0.03"/>
<ellipse cx="870.3" cy="588.3" rx="4.6" ry="7.1" fill-opacity="0.02"/>
<ellipse cx="870.3" cy="617.8" rx="4.6" ry="7.1" fill-opacity="0.02"/>
<ellipse cx="888.6" cy="-3.9" rx="4.6" ry="7.1" fill-opacity="0.35"/>
<ellipse cx="888.6" cy="25.7" rx="4.6" ry="7.1" fill-opacity="0.35"/>
<ellipse cx="888.6" cy="55.4" rx="4.6" ry="7.1" fill-opacity="0.34"/>
<ellipse cx="888.6" cy="85.0" rx="4.6" ry="7.1" fill-opacity="0.34"/>
<ellipse cx="888.6" cy="114.6" rx="4.6" ry="7.1" fill-opacity="0.33"/>
<ellipse cx="888.6" cy="144.2" rx="4.6" ry="7.1" fill-opacity="0.32"/>
<ellipse cx="888.6" cy="173.8" rx="4.6" ry="7.1" fill-opacity="0.30"/>
<ellipse cx="888.6" cy="203.4" rx="4.6" ry="7.1" fill-opacity="0.27"/>
<ellipse cx="888.6" cy="233.0" rx="4.6" ry="7.1" fill-opacity="0.25"/>
<ellipse cx="888.6" cy="262.6" rx="4.6" ry="7.1" fill-opacity="0.23"/>
<ellipse cx="888.6" cy="292.2" rx="4.6" ry="7.1" fill-opacity="0.20"/>
<ellipse cx="888.6" cy="321.8" rx="4.6" ry="7.1" fill-opacity="0.17"/>
<ellipse cx="888.6" cy="351.4" rx="4.6" ry="7.1" fill-opacity="0.15"/>
<ellipse cx="888.6" cy="381.1" rx="4.6" ry="7.1" fill-opacity="0.12"/>
<ellipse cx="888.6" cy="410.7" rx="4.6" ry="7.1" fill-opacity="0.09"/>
<ellipse cx="888.6" cy="440.3" rx="4.6" ry="7.1" fill-opacity="0.08"/>
<ellipse cx="888.6" cy="469.9" rx="4.6" ry="7.1" fill-opacity="0.07"/>
<ellipse cx="888.6" cy="499.5" rx="4.6" ry="7.1" fill-opacity="0.05"/>
<ellipse cx="888.6" cy="529.1" rx="4.6" ry="7.1" fill-opacity="0.04"/>
<ellipse cx="888.6" cy="558.7" rx="4.6" ry="7.1" fill-opacity="0.02"/>
<ellipse cx="888.6" cy="588.3" rx="4.6" ry="7.1" fill-opacity="0.02"/>
<ellipse cx="888.6" cy="617.9" rx="4.6" ry="7.1" fill-opacity="0.01"/>
<ellipse cx="907.1" cy="-6.7" rx="4.7" ry="7.1" fill-opacity="0.35"/>
<ellipse cx="907.1" cy="23.0" rx="4.7" ry="7.1" fill-opacity="0.34"/>
<ellipse cx="907.1" cy="52.8" rx="4.7" ry="7.1" fill-opacity="0.33"/>
<ellipse cx="907.1" cy="82.5" rx="4.7" ry="7.1" fill-opacity="0.33"/>
<ellipse cx="907.1" cy="112.3" rx="4.7" ry="7.1" fill-opacity="0.32"/>
<ellipse cx="907.1" cy="142.0" rx="4.7" ry="7.1" fill-opacity="0.31"/>
<ellipse cx="907.1" cy="171.8" rx="4.7" ry="7.1" fill-opacity="0.28"/>
<ellipse cx="907.1" cy="201.5" rx="4.7" ry="7.1" fill-opacity="0.26"/>
<ellipse cx="907.1" cy="231.3" rx="4.7" ry="7.1" fill-opacity="0.24"/>
<ellipse cx="907.1" cy="261.1" rx="4.7" ry="7.1" fill-opacity="0.21"/>
<ellipse cx="907.1" cy="290.8" rx="4.7" ry="7.1" fill-opacity="0.19"/>
<ellipse cx="907.1" cy="320.6" rx="4.7" ry="7.1" fill-opacity="0.16"/>
<ellipse cx="907.1" cy="350.3" rx="4.7" ry="7.1" fill-opacity="0.13"/>
<ellipse cx="907.1" cy="380.1" rx="4.7" ry="7.1" fill-opacity="0.11"/>
<ellipse cx="907.1" cy="409.8" rx="4.7" ry="7.1" fill-opacity="0.09"/>
<ellipse cx="907.1" cy="439.6" rx="4.7" ry="7.1" fill-opacity="0.07"/>
<ellipse cx="907.1" cy="469.4" rx="4.7" ry="7.1" fill-opacity="0.06"/>
<ellipse cx="907.1" cy="499.1" rx="4.7" ry="7.1" fill-opacity="0.04"/>
<ellipse cx="907.1" cy="528.9" rx="4.7" ry="7.1" fill-opacity="0.03"/>
<ellipse cx="907.1" cy="558.6" rx="4.7" ry="7.1" fill-opacity="0.02"/>
<ellipse cx="907.1" cy="588.4" rx="4.7" ry="7.1" fill-opacity="0.02"/>
<ellipse cx="925.8" cy="-9.5" rx="4.7" ry="7.2" fill-opacity="0.34"/>
<ellipse cx="925.8" cy="20.4" rx="4.7" ry="7.2" fill-opacity="0.33"/>
<ellipse cx="925.8" cy="50.3" rx="4.7" ry="7.2" fill-opacity="0.32"/>
<ellipse cx="925.8" cy="80.2" rx="4.7" ry="7.2" fill-opacity="0.32"/>
<ellipse cx="925.8" cy="110.1" rx="4.7" ry="7.2" fill-opacity="0.31"/>
<ellipse cx="925.8" cy="140.0" rx="4.7" ry="7.2" fill-opacity="0.29"/>
<ellipse cx="925.8" cy="169.9" rx="4.7" ry="7.2" fill-opacity="0.27"/>
<ellipse cx="925.8" cy="199.8" rx="4.7" ry="7.2" fill-opacity="0.25"/>
<ellipse cx="925.8" cy="229.7" rx="4.7" ry="7.2" fill-opacity="0.22"/>
<ellipse cx="925.8" cy="259.6" rx="4.7" ry="7.2" fill-opacity="0.20"/>
<ellipse cx="925.8" cy="289.5" rx="4.7" ry="7.2" fill-opacity="0.17"/>
<ellipse cx="925.8" cy="319.4" rx="4.7" ry="7.2" fill-opacity="0.15"/>
<ellipse cx="925.8" cy="349.3" rx="4.7" ry="7.2" fill-opacity="0.12"/>
<ellipse cx="925.8" cy="379.2" rx="4.7" ry="7.2" fill-opacity="0.10"/>
<ellipse cx="925.8" cy="409.1" rx="4.7" ry="7.2" fill-opacity="0.07"/>
<ellipse cx="925.8" cy="439.1" rx="4.7" ry="7.2" fill-opacity="0.06"/>
<ellipse cx="925.8" cy="469.0" rx="4.7" ry="7.2" fill-opacity="0.05"/>
<ellipse cx="925.8" cy="498.9" rx="4.7" ry="7.2" fill-opacity="0.04"/>
<ellipse cx="925.8" cy="528.8" rx="4.7" ry="7.2" fill-opacity="0.03"/>
<ellipse cx="925.8" cy="558.7" rx="4.7" ry="7.2" fill-opacity="0.02"/>
<ellipse cx="925.8" cy="588.6" rx="4.7" ry="7.2" fill-opacity="0.01"/>
<ellipse cx="944.7" cy="-12.3" rx="4.8" ry="7.2" fill-opacity="0.33"/>
<ellipse cx="944.7" cy="17.8" rx="4.8" ry="7.2" fill-opacity="0.32"/>
<ellipse cx="944.7" cy="47.9" rx="4.8" ry="7.2" fill-opacity="0.32"/>
<ellipse cx="944.7" cy="77.9" rx="4.8" ry="7.2" fill-opacity="0.31"/>
<ellipse cx="944.7" cy="108.0" rx="4.8" ry="7.2" fill-opacity="0.30"/>
<ellipse cx="944.7" cy="138.0" rx="4.8" ry="7.2" fill-opacity="0.28"/>
<ellipse cx="944.7" cy="168.1" rx="4.8" ry="7.2" fill-opacity="0.26"/>
<ellipse cx="944.7" cy="198.1" rx="4.8" ry="7.2" fill-opacity="0.23"/>
<ellipse cx="944.7" cy="228.2" rx="4.8" ry="7.2" fill-opacity="0.21"/>
<ellipse cx="944.7" cy="258.3" rx="4.8" ry="7.2" fill-opacity="0.18"/>
<ellipse cx="944.7" cy="288.3" rx="4.8" ry="7.2" fill-opacity="0.16"/>
<ellipse cx="944.7" cy="318.4" rx="4.8" ry="7.2" fill-opacity="0.14"/>
<ellipse cx="944.7" cy="348.4" rx="4.8" ry="7.2" fill-opacity="0.11"/>
<ellipse cx="944.7" cy="378.5" rx="4.8" ry="7.2" fill-opacity="0.09"/>
<ellipse cx="944.7" cy="408.6" rx="4.8" ry="7.2" fill-opacity="0.06"/>
<ellipse cx="944.7" cy="438.6" rx="4.8" ry="7.2" fill-opacity="0.05"/>
<ellipse cx="944.7" cy="468.7" rx="4.8" ry="7.2" fill-opacity="0.04"/>
<ellipse cx="944.7" cy="498.7" rx="4.8" ry="7.2" fill-opacity="0.03"/>
<ellipse cx="944.7" cy="528.8" rx="4.8" ry="7.2" fill-opacity="0.02"/>
<ellipse cx="963.8" cy="-14.9" rx="4.8" ry="7.3" fill-opacity="0.32"/>
<ellipse cx="963.8" cy="15.3" rx="4.8" ry="7.3" fill-opacity="0.32"/>
<ellipse cx="963.8" cy="45.6" rx="4.8" ry="7.3" fill-opacity="0.31"/>
<ellipse cx="963.8" cy="75.8" rx="4.8" ry="7.3" fill-opacity="0.30"/>
<ellipse cx="963.8" cy="106.0" rx="4.8" ry="7.3" fill-opacity="0.28"/>
<ellipse cx="963.8" cy="136.2" rx="4.8" ry="7.3" fill-opacity="0.27"/>
<ellipse cx="963.8" cy="166.4" rx="4.8" ry="7.3" fill-opacity="0.24"/>
<ellipse cx="963.8" cy="196.6" rx="4.8" ry="7.3" fill-opacity="0.22"/>
<ellipse cx="963.8" cy="226.8" rx="4.8" ry="7.3" fill-opacity="0.19"/>
<ellipse cx="963.8" cy="257.0" rx="4.8" ry="7.3" fill-opacity="0.17"/>
<ellipse cx="963.8" cy="287.2" rx="4.8" ry="7.3" fill-opacity="0.15"/>
<ellipse cx="963.8" cy="317.4" rx="4.8" ry="7.3" fill-opacity="0.12"/>
<ellipse cx="963.8" cy="347.7" rx="4.8" ry="7.3" fill-opacity="0.10"/>
<ellipse cx="963.8" cy="377.9" rx="4.8" ry="7.3" fill-opacity="0.07"/>
<ellipse cx="963.8" cy="408.1" rx="4.8" ry="7.3" fill-opacity="0.05"/>
<ellipse cx="963.8" cy="438.3" rx="4.8" ry="7.3" fill-opacity="0.04"/>
<ellipse cx="963.8" cy="468.5" rx="4.8" ry="7.3" fill-opacity="0.03"/>
<ellipse cx="963.8" cy="498.7" rx="4.8" ry="7.3" fill-opacity="0.02"/>
<ellipse cx="963.8" cy="528.9" rx="4.8" ry="7.3" fill-opacity="0.02"/>
<ellipse cx="983.0" cy="-17.4" rx="4.9" ry="7.3" fill-opacity="0.31"/>
<ellipse cx="983.0" cy="13.0" rx="4.9" ry="7.3" fill-opacity="0.31"/>
<ellipse cx="983.0" cy="43.3" rx="4.9" ry="7.3" fill-opacity="0.30"/>
<ellipse cx="983.0" cy="73.7" rx="4.9" ry="7.3" fill-opacity="0.28"/>
<ellipse cx="983.0" cy="104.1" rx="4.9" ry="7.3" fill-opacity="0.27"/>
<ellipse cx="983.0" cy="134.4" rx="4.9" ry="7.3" fill-opacity="0.26"/>
<ellipse cx="983.0" cy="164.8" rx="4.9" ry="7.3" fill-opacity="0.23"/>
<ellipse cx="983.0" cy="195.2" rx="4.9" ry="7.3" fill-opacity="0.20"/>
<ellipse cx="983.0" cy="225.5" rx="4.9" ry="7.3" fill-opacity="0.18"/>
<ellipse cx="983.0" cy="255.9" rx="4.9" ry="7.3" fill-opacity="0.15"/>
<ellipse cx="983.0" cy="286.3" rx="4.9" ry="7.3" fill-opacity="0.13"/>
<ellipse cx="983.0" cy="316.6" rx="4.9" ry="7.3" fill-opacity="0.11"/>
<ellipse cx="983.0" cy="347.0" rx="4.9" ry="7.3" fill-opacity="0.09"/>
<ellipse cx="983.0" cy="377.3" rx="4.9" ry="7.3" fill-opacity="0.06"/>
<ellipse cx="983.0" cy="407.7" rx="4.9" ry="7.3" fill-opacity="0.04"/>
<ellipse cx="983.0" cy="438.1" rx="4.9" ry="7.3" fill-opacity="0.04"/>
<ellipse cx="983.0" cy="468.4" rx="4.9" ry="7.3" fill-opacity="0.03"/>
<ellipse cx="983.0" cy="498.8" rx="4.9" ry="7.3" fill-opacity="0.02"/>
<ellipse cx="1002.4" cy="-19.8" rx="4.9" ry="7.3" fill-opacity="0.30"/>
<ellipse cx="1002.4" cy="10.7" rx="4.9" ry="7.3" fill-opacity="0.30"/>
<ellipse cx="1002.4" cy="41.2" rx="4.9" ry="7.3" fill-opacity="0.29"/>
<ellipse cx="1002.4" cy="71.8" rx="4.9" ry="7.3" fill-opacity="0.27"/>
<ellipse cx="1002.4" cy="102.3" rx="4.9" ry="7.3" fill-opacity="0.26"/>
<ellipse cx="1002.4" cy="132.8" rx="4.9" ry="7.3" fill-opacity="0.24"/>
<ellipse cx="1002.4" cy="163.3" rx="4.9" ry="7.3" fill-opacity="0.22"/>
<ellipse cx="1002.4" cy="193.8" rx="4.9" ry="7.3" fill-opacity="0.19"/>
<ellipse cx="1002.4" cy="224.4" rx="4.9" ry="7.3" fill-opacity="0.16"/>
<ellipse cx="1002.4" cy="254.9" rx="4.9" ry="7.3" fill-opacity="0.14"/>
<ellipse cx="1002.4" cy="285.4" rx="4.9" ry="7.3" fill-opacity="0.12"/>
<ellipse cx="1002.4" cy="315.9" rx="4.9" ry="7.3" fill-opacity="0.10"/>
<ellipse cx="1002.4" cy="346.4" rx="4.9" ry="7.3" fill-opacity="0.07"/>
<ellipse cx="1002.4" cy="377.0" rx="4.9" ry="7.3" fill-opacity="0.05"/>
<ellipse cx="1002.4" cy="407.5" rx="4.9" ry="7.3" fill-opacity="0.03"/>
<ellipse cx="1002.4" cy="438.0" rx="4.9" ry="7.3" fill-opacity="0.03"/>
<ellipse cx="1002.4" cy="468.5" rx="4.9" ry="7.3" fill-opacity="0.02"/>
<ellipse cx="1022.1" cy="-22.1" rx="5.0" ry="7.4" fill-opacity="0.28"/>
<ellipse cx="1022.1" cy="8.6" rx="5.0" ry="7.4" fill-opacity="0.28"/>
<ellipse cx="1022.1" cy="39.2" rx="5.0" ry="7.4" fill-opacity="0.26"/>
<ellipse cx="1022.1" cy="69.9" rx="5.0" ry="7.4" fill-opacity="0.25"/>
<ellipse cx="1022.1" cy="100.6" rx="5.0" ry="7.4" fill-opacity="0.24"/>
<ellipse cx="1022.1" cy="131.3" rx="5.0" ry="7.4" fill-opacity="0.22"/>
<ellipse cx="1022.1" cy="161.9" rx="5.0" ry="7.4" fill-opacity="0.20"/>
<ellipse cx="1022.1" cy="192.6" rx="5.0" ry="7.4" fill-opacity="0.17"/>
<ellipse cx="1022.1" cy="223.3" rx="5.0" ry="7.4" fill-opacity="0.15"/>
<ellipse cx="1022.1" cy="254.0" rx="5.0" ry="7.4" fill-opacity="0.12"/>
<ellipse cx="1022.1" cy="284.7" rx="5.0" ry="7.4" fill-opacity="0.10"/>
<ellipse cx="1022.1" cy="315.3" rx="5.0" ry="7.4" fill-opacity="0.08"/>
<ellipse cx="1022.1" cy="346.0" rx="5.0" ry="7.4" fill-opacity="0.06"/>
<ellipse cx="1022.1" cy="376.7" rx="5.0" ry="7.4" fill-opacity="0.04"/>
<ellipse cx="1022.1" cy="407.4" rx="5.0" ry="7.4" fill-opacity="0.03"/>
<ellipse cx="1022.1" cy="438.0" rx="5.0" ry="7.4" fill-opacity="0.02"/>
<ellipse cx="1022.1" cy="468.7" rx="5.0" ry="7.4" fill-opacity="0.02"/>
<ellipse cx="1041.9" cy="-24.3" rx="5.0" ry="7.4" fill-opacity="0.26"/>
<ellipse cx="1041.9" cy="6.5" rx="5.0" ry="7.4" fill-opacity="0.26"/>
<ellipse cx="1041.9" cy="37.4" rx="5.0" ry="7.4" fill-opacity="0.24"/>
<ellipse cx="1041.9" cy="68.2" rx="5.0" ry="7.4" fill-opacity="0.23"/>
<ellipse cx="1041.9" cy="99.0" rx="5.0" ry="7.4" fill-opacity="0.22"/>
<ellipse cx="1041.9" cy="129.9" rx="5.0" ry="7.4" fill-opacity="0.21"/>
<ellipse cx="1041.9" cy="160.7" rx="5.0" ry="7.4" fill-opacity="0.18"/>
<ellipse cx="1041.9" cy="191.5" rx="5.0" ry="7.4" fill-opacity="0.16"/>
<ellipse cx="1041.9" cy="222.4" rx="5.0" ry="7.4" fill-opacity="0.13"/>
<ellipse cx="1041.9" cy="253.2" rx="5.0" ry="7.4" fill-opacity="0.11"/>
<ellipse cx="1041.9" cy="284.0" rx="5.0" ry="7.4" fill-opacity="0.09"/>
<ellipse cx="1041.9" cy="314.9" rx="5.0" ry="7.4" fill-opacity="0.07"/>
<ellipse cx="1041.9" cy="345.7" rx="5.0" ry="7.4" fill-opacity="0.06"/>
<ellipse cx="1041.9" cy="376.5" rx="5.0" ry="7.4" fill-opacity="0.04"/>
<ellipse cx="1041.9" cy="407.4" rx="5.0" ry="7.4" fill-opacity="0.02"/>
<ellipse cx="1041.9" cy="438.2" rx="5.0" ry="7.4" fill-opacity="0.02"/>
<ellipse cx="1041.9" cy="469.0" rx="5.0" ry="7.4" fill-opacity="0.01"/>
<ellipse cx="1061.9" cy="-26.4" rx="5.1" ry="7.4" fill-opacity="0.23"/>
<ellipse cx="1061.9" cy="4.6" rx="5.1" ry="7.4" fill-opacity="0.23"/>
<ellipse cx="1061.9" cy="35.6" rx="5.1" ry="7.4" fill-opacity="0.22"/>
<ellipse cx="1061.9" cy="66.6" rx="5.1" ry="7.4" fill-opacity="0.21"/>
<ellipse cx="1061.9" cy="97.6" rx="5.1" ry="7.4" fill-opacity="0.20"/>
<ellipse cx="1061.9" cy="128.6" rx="5.1" ry="7.4" fill-opacity="0.19"/>
<ellipse cx="1061.9" cy="159.6" rx="5.1" ry="7.4" fill-opacity="0.16"/>
<ellipse cx="1061.9" cy="190.6" rx="5.1" ry="7.4" fill-opacity="0.14"/>
<ellipse cx="1061.9" cy="221.5" rx="5.1" ry="7.4" fill-opacity="0.12"/>
<ellipse cx="1061.9" cy="252.5" rx="5.1" ry="7.4" fill-opacity="0.09"/>
<ellipse cx="1061.9" cy="283.5" rx="5.1" ry="7.4" fill-opacity="0.08"/>
<ellipse cx="1061.9" cy="314.5" rx="5.1" ry="7.4" fill-opacity="0.06"/>
<ellipse cx="1061.9" cy="345.5" rx="5.1" ry="7.4" fill-opacity="0.05"/>
<ellipse cx="1061.9" cy="376.5" rx="5.1" ry="7.4" fill-opacity="0.03"/>
<ellipse cx="1061.9" cy="407.5" rx="5.1" ry="7.4" fill-opacity="0.02"/>
<ellipse cx="1061.9" cy="438.5" rx="5.1" ry="7.4" fill-opacity="0.01"/>
<ellipse cx="1082.1" cy="-28.5" rx="5.1" ry="7.5" fill-opacity="0.21"/>
<ellipse cx="1082.1" cy="2.7" rx="5.1" ry="7.5" fill-opacity="0.21"/>
<ellipse cx="1082.1" cy="33.8" rx="5.1" ry="7.5" fill-opacity="0.20"/>
<ellipse cx="1082.1" cy="65.0" rx="5.1" ry="7.5" fill-opacity="0.19"/>
<ellipse cx="1082.1" cy="96.2" rx="5.1" ry="7.5" fill-opacity="0.18"/>
<ellipse cx="1082.1" cy="127.3" rx="5.1" ry="7.5" fill-opacity="0.17"/>
<ellipse cx="1082.1" cy="158.5" rx="5.1" ry="7.5" fill-opacity="0.14"/>
<ellipse cx="1082.1" cy="189.6" rx="5.1" ry="7.5" fill-opacity="0.12"/>
<ellipse cx="1082.1" cy="220.8" rx="5.1" ry="7.5" fill-opacity="0.10"/>
<ellipse cx="1082.1" cy="251.9" rx="5.1" ry="7.5" fill-opacity="0.08"/>
<ellipse cx="1082.1" cy="283.1" rx="5.1" ry="7.5" fill-opacity="0.06"/>
<ellipse cx="1082.1" cy="314.2" rx="5.1" ry="7.5" fill-opacity="0.05"/>
<ellipse cx="1082.1" cy="345.4" rx="5.1" ry="7.5" fill-opacity="0.04"/>
<ellipse cx="1082.1" cy="376.6" rx="5.1" ry="7.5" fill-opacity="0.02"/>
<ellipse cx="1102.5" cy="-30.6" rx="5.1" ry="7.5" fill-opacity="0.19"/>
<ellipse cx="1102.5" cy="0.8" rx="5.1" ry="7.5" fill-opacity="0.19"/>
<ellipse cx="1102.5" cy="32.1" rx="5.1" ry="7.5" fill-opacity="0.18"/>
<ellipse cx="1102.5" cy="63.4" rx="5.1" ry="7.5" fill-opacity="0.17"/>
<ellipse cx="1102.5" cy="94.7" rx="5.1" ry="7.5" fill-opacity="0.16"/>
<ellipse cx="1102.5" cy="126.0" rx="5.1" ry="7.5" fill-opacity="0.15"/>
<ellipse cx="1102.5" cy="157.4" rx="5.1" ry="7.5" fill-opacity="0.13"/>
<ellipse cx="1102.5" cy="188.7" rx="5.1" ry="7.5" fill-opacity="0.10"/>
<ellipse cx="1102.5" cy="220.0" rx="5.1" ry="7.5" fill-opacity="0.08"/>
<ellipse cx="1102.5" cy="251.3" rx="5.1" ry="7.5" fill-opacity="0.06"/>
<ellipse cx="1102.5" cy="282.6" rx="5.1" ry="7.5" fill-opacity="0.05"/>
<ellipse cx="1102.5" cy="314.0" rx="5.1" ry="7.5" fill-opacity="0.04"/>
<ellipse cx="1102.5" cy="345.3" rx="5.1" ry="7.5" fill-opacity="0.03"/>
<ellipse cx="1102.5" cy="376.6" rx="5.1" ry="7.5" fill-opacity="0.02"/>
<ellipse cx="1123.1" cy="-1.2" rx="5.2" ry="7.6" fill-opacity="0.16"/>
<ellipse cx="1123.1" cy="30.3" rx="5.2" ry="7.6" fill-opacity="0.16"/>
<ellipse cx="1123.1" cy="61.8" rx="5.2" ry="7.6" fill-opacity="0.15"/>
<ellipse cx="1123.1" cy="93.3" rx="5.2" ry="7.6" fill-opacity="0.14"/>
<ellipse cx="1123.1" cy="124.8" rx="5.2" ry="7.6" fill-opacity="0.13"/>
<ellipse cx="1123.1" cy="156.3" rx="5.2" ry="7.6" fill-opacity="0.11"/>
<ellipse cx="1123.1" cy="187.7" rx="5.2" ry="7.6" fill-opacity="0.09"/>
<ellipse cx="1123.1" cy="219.2" rx="5.2" ry="7.6" fill-opacity="0.07"/>
<ellipse cx="1123.1" cy="250.7" rx="5.2" ry="7.6" fill-opacity="0.04"/>
<ellipse cx="1123.1" cy="282.2" rx="5.2" ry="7.6" fill-opacity="0.04"/>
<ellipse cx="1123.1" cy="313.7" rx="5.2" ry="7.6" fill-opacity="0.03"/>
<ellipse cx="1123.1" cy="345.2" rx="5.2" ry="7.6" fill-opacity="0.02"/>
<ellipse cx="1143.9" cy="-3.1" rx="5.2" ry="7.6" fill-opacity="0.14"/>
<ellipse cx="1143.9" cy="28.5" rx="5.2" ry="7.6" fill-opacity="0.13"/>
<ellipse cx="1143.9" cy="60.2" rx="5.2" ry="7.6" fill-opacity="0.13"/>
<ellipse cx="1143.9" cy="91.8" rx="5.2" ry="7.6" fill-opacity="0.12"/>
<ellipse cx="1143.9" cy="123.5" rx="5.2" ry="7.6" fill-opacity="0.11"/>
<ellipse cx="1143.9" cy="155.1" rx="5.2" ry="7.6" fill-opacity="0.09"/>
<ellipse cx="1143.9" cy="186.8" rx="5.2" ry="7.6" fill-opacity="0.07"/>
<ellipse cx="1143.9" cy="218.4" rx="5.2" ry="7.6" fill-opacity="0.05"/>
<ellipse cx="1143.9" cy="250.1" rx="5.2" ry="7.6" fill-opacity="0.04"/>
<ellipse cx="1143.9" cy="281.7" rx="5.2" ry="7.6" fill-opacity="0.03"/>
<ellipse cx="1143.9" cy="313.4" rx="5.2" ry="7.6" fill-opacity="0.02"/>
<ellipse cx="1143.9" cy="345.0" rx="5.2" ry="7.6" fill-opacity="0.01"/>
<ellipse cx="1164.9" cy="-5.1" rx="5.3" ry="7.6" fill-opacity="0.12"/>
<ellipse cx="1164.9" cy="26.7" rx="5.3" ry="7.6" fill-opacity="0.11"/>
<ellipse cx="1164.9" cy="58.5" rx="5.3" ry="7.6" fill-opacity="0.10"/>
<ellipse cx="1164.9" cy="90.4" rx="5.3" ry="7.6" fill-opacity="0.10"/>
<ellipse cx="1164.9" cy="122.2" rx="5.3" ry="7.6" fill-opacity="0.09"/>
<ellipse cx="1164.9" cy="154.0" rx="5.3" ry="7.6" fill-opacity="0.08"/>
<ellipse cx="1164.9" cy="185.8" rx="5.3" ry="7.6" fill-opacity="0.06"/>
<ellipse cx="1164.9" cy="217.6" rx="5.3" ry="7.6" fill-opacity="0.04"/>
<ellipse cx="1164.9" cy="249.5" rx="5.3" ry="7.6" fill-opacity="0.03"/>
<ellipse cx="1164.9" cy="281.3" rx="5.3" ry="7.6" fill-opacity="0.02"/>
<ellipse cx="1164.9" cy="313.1" rx="5.3" ry="7.6" fill-opacity="0.02"/>
<ellipse cx="1186.1" cy="-7.1" rx="5.4" ry="7.7" fill-opacity="0.09"/>
<ellipse cx="1186.1" cy="24.9" rx="5.4" ry="7.7" fill-opacity="0.09"/>
<ellipse cx="1186.1" cy="56.9" rx="5.4" ry="7.7" fill-opacity="0.08"/>
<ellipse cx="1186.1" cy="88.9" rx="5.4" ry="7.7" fill-opacity="0.08"/>
<ellipse cx="1186.1" cy="120.9" rx="5.4" ry="7.7" fill-opacity="0.07"/>
<ellipse cx="1186.1" cy="152.9" rx="5.4" ry="7.7" fill-opacity="0.06"/>
<ellipse cx="1186.1" cy="184.8" rx="5.4" ry="7.7" fill-opacity="0.05"/>
<ellipse cx="1186.1" cy="216.8" rx="5.4" ry="7.7" fill-opacity="0.03"/>
<ellipse cx="1186.1" cy="248.8" rx="5.4" ry="7.7" fill-opacity="0.02"/>
<ellipse cx="1186.1" cy="280.8" rx="5.4" ry="7.7" fill-opacity="0.02"/>
<ellipse cx="1186.1" cy="312.8" rx="5.4" ry="7.7" fill-opacity="0.01"/>
<ellipse cx="1207.5" cy="-9.1" rx="5.4" ry="7.7" fill-opacity="0.07"/>
<ellipse cx="1207.5" cy="23.1" rx="5.4" ry="7.7" fill-opacity="0.06"/>
<ellipse cx="1207.5" cy="55.2" rx="5.4" ry="7.7" fill-opacity="0.06"/>
<ellipse cx="1207.5" cy="87.4" rx="5.4" ry="7.7" fill-opacity="0.06"/>
<ellipse cx="1207.5" cy="119.5" rx="5.4" ry="7.7" fill-opacity="0.05"/>
<ellipse cx="1207.5" cy="151.7" rx="5.4" ry="7.7" fill-opacity="0.04"/>
<ellipse cx="1207.5" cy="183.9" rx="5.4" ry="7.7" fill-opacity="0.03"/>
<ellipse cx="1207.5" cy="216.0" rx="5.4" ry="7.7" fill-opacity="0.02"/>
<ellipse cx="1207.5" cy="248.2" rx="5.4" ry="7.7" fill-opacity="0.02"/>
<ellipse cx="1229.1" cy="-11.1" rx="5.5" ry="7.8" fill-opacity="0.04"/>
<ellipse cx="1229.1" cy="21.2" rx="5.5" ry="7.8" fill-opacity="0.04"/>
<ellipse cx="1229.1" cy="53.5" rx="5.5" ry="7.8" fill-opacity="0.04"/>
<ellipse cx="1229.1" cy="85.9" rx="5.5" ry="7.8" fill-opacity="0.03"/>
<ellipse cx="1229.1" cy="118.2" rx="5.5" ry="7.8" fill-opacity="0.03"/>
<ellipse cx="1229.1" cy="150.5" rx="5.5" ry="7.8" fill-opacity="0.03"/>
<ellipse cx="1229.1" cy="182.9" rx="5.5" ry="7.8" fill-opacity="0.02"/>
<ellipse cx="1229.1" cy="215.2" rx="5.5" ry="7.8" fill-opacity="0.01"/>
<ellipse cx="1250.9" cy="-13.2" rx="5.5" ry="7.8" fill-opacity="0.02"/>
<ellipse cx="1250.9" cy="19.3" rx="5.5" ry="7.8" fill-opacity="0.02"/>
<ellipse cx="1250.9" cy="51.8" rx="5.5" ry="7.8" fill-opacity="0.01"/>
<ellipse cx="1250.9" cy="84.3" rx="5.5" ry="7.8" fill-opacity="0.01"/>
<ellipse cx="1272.9" cy="-15.3" rx="5.6" ry="7.8" fill-opacity="0.01"/>
<ellipse cx="1272.9" cy="17.4" rx="5.6" ry="7.8" fill-opacity="0.01"/>
<ellipse cx="1272.9" cy="50.1" rx="5.6" ry="7.8" fill-opacity="0.01"/>
</g></svg>
<div class="col" style="left:215px"></div>
<div class="col" style="left:355px"></div>
<div class="col" style="left:475px"></div>
<div class="col" style="left:595px"></div>
<div class="col" style="left:715px"></div>
<div class="col" style="left:855px"></div>
<div class="col" style="left:975px"></div>
<div class="col" style="left:1095px"></div>
<div class="col" style="left:1215px"></div>
<div class="col" style="left:1355px"></div>
<div class="col" style="left:1475px"></div>
<div class="col" style="left:1595px"></div>
<div class="grid" style="top:138px"></div>
<div class="grid" style="top:210px"></div>
<div class="grid" style="top:282px"></div>
<div class="grid" style="top:354px"></div>
<div class="grid" style="top:426px"></div>
<div class="grid" style="top:498px"></div>
<div class="grid" style="top:570px"></div>
<div class="grid" style="top:642px"></div>
<div class="grid" style="top:714px"></div>
<div class="grid" style="top:786px"></div>
<div class="bar w" style="left:215px;top:355px;height:431px"></div>
<div class="bar w" style="left:355px;top:609px;height:177px"></div>
<div class="bar o" style="left:475px;top:520px;height:266px"></div>
<div class="bar o" style="left:595px;top:380px;height:406px"></div>
<div class="bar o" style="left:715px;top:281px;height:505px"></div>
<div class="bar w" style="left:855px;top:365px;height:421px"></div>
<div class="bar o" style="left:975px;top:710px;height:76px"></div>
<div class="bar o" style="left:1095px;top:332px;height:454px"></div>
<div class="bar o" style="left:1215px;top:311px;height:475px"></div>
<div class="bar o" style="left:1355px;top:674px;height:112px"></div>
<div class="bar o" style="left:1475px;top:624px;height:162px"></div>
<div class="bar o" style="left:1595px;top:445px;height:341px"></div>
<div class="yl" style="top:121px">30</div>
<div class="yl" style="top:196px">27</div>
<div class="yl" style="top:268px">24</div>
<div class="yl" style="top:338px">21</div>
<div class="yl" style="top:413px">18</div>
<div class="yl" style="top:483px">12</div>
<div class="yl" style="top:553px">9</div>
<div class="yl" style="top:628px">6</div>
<div class="yl" style="top:698px">3</div>
<div class="yl" style="top:771.5px">0</div>
<div class="a" style="left:41px;top:448px;font-size:31.5px;line-height:32px;color:#fff;-webkit-text-stroke:0.4px #fff;transform-origin:0 0;transform:scaleX(0.88);white-space:nowrap">FPS</div>
<div class="lt" style="left:215.00px;top:797.0px;transform:scaleX(0.8932)">Adobe Prores</div>
<div class="bd" style="left:230.50px;top:815.4px;transform:scaleX(0.8243)">422 HQ</div>
<div class="lt" style="left:358.97px;top:797.0px;transform:scaleX(0.9310)">Community</div>
<div class="lt" style="left:366.35px;top:815.5px;transform:scaleX(0.9000)">Edition Ae</div>
<div class="bd" style="left:382.14px;top:833.9px;transform:scaleX(0.8571)">HAP</div>
<div class="lt" style="left:474.00px;top:797.0px;transform:scaleX(0.8785)">Jokyo HAP Ae</div>
<div class="bd" style="left:478.13px;top:815.4px;transform:scaleX(0.8660)">HAP Slow</div>
<div class="lt" style="left:594.00px;top:797.0px;transform:scaleX(0.8785)">Jokyo HAP Ae</div>
<div class="bd" style="left:585.89px;top:815.4px;transform:scaleX(0.9109)">HAP Normal</div>
<div class="lt" style="left:714.00px;top:797.0px;transform:scaleX(0.8785)">Jokyo HAP Ae</div>
<div class="bd" style="left:720.79px;top:815.4px;transform:scaleX(0.8554)">HAP Fast</div>
<div class="lt" style="left:858.97px;top:797.0px;transform:scaleX(0.9310)">Community</div>
<div class="lt" style="left:866.35px;top:815.5px;transform:scaleX(0.9000)">Edition Ae</div>
<div class="bd" style="left:873.43px;top:833.9px;transform:scaleX(0.8231)">HAP Q</div>
<div class="lt" style="left:974.00px;top:797.0px;transform:scaleX(0.8785)">Jokyo HAP Ae</div>
<div class="bd" style="left:993.43px;top:815.4px;transform:scaleX(0.8231)">HAP Q</div>
<div class="bd" style="left:999.35px;top:838.8px;transform:scaleX(0.9022)">Slow</div>
<div class="lt" style="left:1094.00px;top:797.0px;transform:scaleX(0.8785)">Jokyo HAP Ae</div>
<div class="bd" style="left:1113.43px;top:815.4px;transform:scaleX(0.8231)">HAP Q</div>
<div class="bd" style="left:1107.54px;top:838.8px;transform:scaleX(0.9559)">Normal</div>
<div class="lt" style="left:1214.00px;top:797.0px;transform:scaleX(0.8785)">Jokyo HAP Ae</div>
<div class="bd" style="left:1233.43px;top:815.4px;transform:scaleX(0.8231)">HAP Q</div>
<div class="bd" style="left:1242.67px;top:838.8px;transform:scaleX(0.8333)">Fast</div>
<div class="lt" style="left:1354.00px;top:797.0px;transform:scaleX(0.8785)">Jokyo HAP Ae</div>
<div class="bd" style="left:1373.41px;top:815.4px;transform:scaleX(0.8359)">HAP R</div>
<div class="bd" style="left:1379.35px;top:838.8px;transform:scaleX(0.9022)">Slow</div>
<div class="lt" style="left:1474.00px;top:797.0px;transform:scaleX(0.8785)">Jokyo HAP Ae</div>
<div class="bd" style="left:1493.41px;top:815.4px;transform:scaleX(0.8359)">HAP R</div>
<div class="bd" style="left:1487.54px;top:838.8px;transform:scaleX(0.9559)">Normal</div>
<div class="lt" style="left:1594.00px;top:797.0px;transform:scaleX(0.8785)">Jokyo HAP Ae</div>
<div class="bd" style="left:1613.41px;top:815.4px;transform:scaleX(0.8359)">HAP R</div>
<div class="bd" style="left:1622.67px;top:838.8px;transform:scaleX(0.8333)">Fast</div>
</body></html>
